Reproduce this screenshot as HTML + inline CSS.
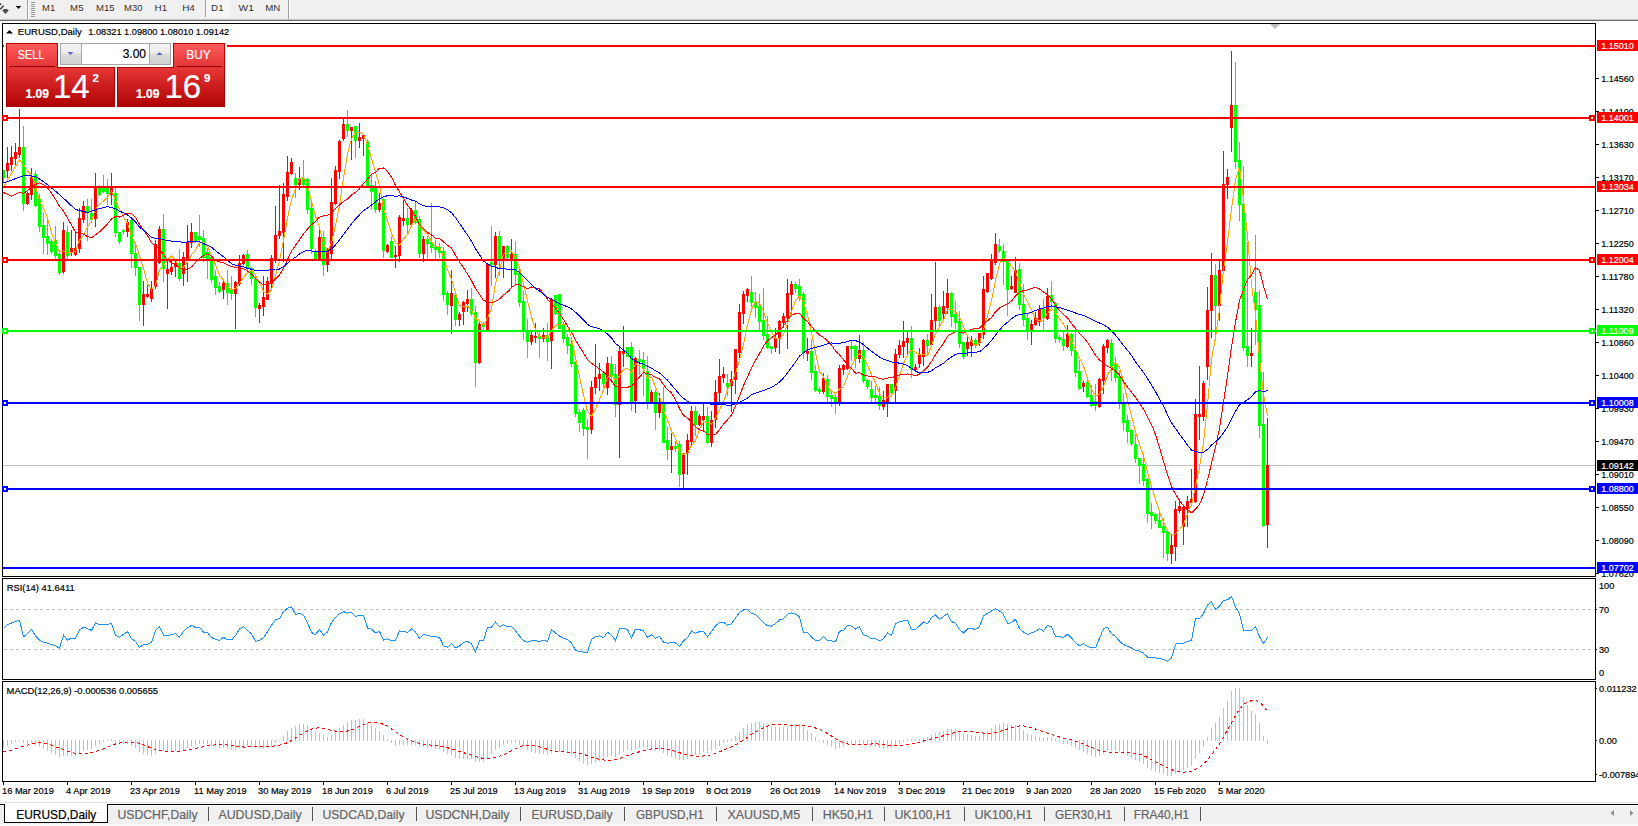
<!DOCTYPE html>
<html><head><meta charset="utf-8"><title>EURUSD,Daily</title>
<style>html,body{margin:0;padding:0;background:#fff;}body{width:1638px;height:826px;overflow:hidden;position:relative;font-family:"Liberation Sans",sans-serif;}
svg{position:absolute;left:0;top:0;} text{font-family:"Liberation Sans",sans-serif;}</style></head>
<body><svg width="1638" height="826" viewBox="0 0 1638 826" shape-rendering="crispEdges">
<rect x="0" y="0" width="1638" height="19" fill="#f0f0f0" />
<rect x="0" y="19" width="1638" height="1" fill="#c4c4c4" />
<rect x="0" y="20" width="1638" height="1" fill="#6e6e6e" />
<path d="M0.3 9.3 L3.6 5.6" stroke="#333" stroke-width="1.4" fill="none" shape-rendering="auto"/>
<path d="M0 3 L1.9 4.3 L0 5.2 Z" fill="#333" shape-rendering="auto"/>
<path d="M2.2 10.3 L4.3 9.1 L6.7 9.1 L8.8 10.3 L5.5 14 Z" fill="#4a4a4a" shape-rendering="auto"/>
<path d="M15.8 6 L21.2 6 L18.5 9 Z" fill="#000" shape-rendering="auto"/>
<rect x="27" y="0" width="1" height="19" fill="#a0a0a0" />
<rect x="28" y="0" width="1" height="19" fill="#ffffff" />
<rect x="31" y="2" width="4" height="1" fill="#9a9a9a" />
<rect x="31" y="4" width="4" height="1" fill="#9a9a9a" />
<rect x="31" y="6" width="4" height="1" fill="#9a9a9a" />
<rect x="31" y="8" width="4" height="1" fill="#9a9a9a" />
<rect x="31" y="10" width="4" height="1" fill="#9a9a9a" />
<rect x="31" y="12" width="4" height="1" fill="#9a9a9a" />
<rect x="31" y="14" width="4" height="1" fill="#9a9a9a" />
<rect x="31" y="16" width="4" height="1" fill="#9a9a9a" />
<rect x="206" y="0" width="24" height="17" fill="#f6f6f6" />
<rect x="205" y="0" width="1" height="17" fill="#a0a0a0" />
<rect x="288" y="0" width="1" height="19" fill="#a0a0a0" />
<rect x="289" y="0" width="1" height="19" fill="#ffffff" />
<text x="42.1" y="10.9" font-size="9.9" fill="#333333" text-anchor="start" font-weight="normal" textLength="13.1" lengthAdjust="spacingAndGlyphs">M1</text>
<text x="70.1" y="10.9" font-size="9.9" fill="#333333" text-anchor="start" font-weight="normal" textLength="13.4" lengthAdjust="spacingAndGlyphs">M5</text>
<text x="96.1" y="10.9" font-size="9.9" fill="#333333" text-anchor="start" font-weight="normal" textLength="18.6" lengthAdjust="spacingAndGlyphs">M15</text>
<text x="124.1" y="10.9" font-size="9.9" fill="#333333" text-anchor="start" font-weight="normal" textLength="18.4" lengthAdjust="spacingAndGlyphs">M30</text>
<text x="154.6" y="10.9" font-size="9.9" fill="#333333" text-anchor="start" font-weight="normal" textLength="12.6" lengthAdjust="spacingAndGlyphs">H1</text>
<text x="182.2" y="10.9" font-size="9.9" fill="#333333" text-anchor="start" font-weight="normal" textLength="12.7" lengthAdjust="spacingAndGlyphs">H4</text>
<text x="211.1" y="10.9" font-size="9.9" fill="#333333" text-anchor="start" font-weight="normal" textLength="12.5" lengthAdjust="spacingAndGlyphs">D1</text>
<text x="238.6" y="10.9" font-size="9.9" fill="#333333" text-anchor="start" font-weight="normal" textLength="15.2" lengthAdjust="spacingAndGlyphs">W1</text>
<text x="265.20000000000005" y="10.9" font-size="9.9" fill="#333333" text-anchor="start" font-weight="normal" textLength="15.0" lengthAdjust="spacingAndGlyphs">MN</text>
<rect x="2" y="23" width="1594" height="1" fill="#000" />
<rect x="2" y="576" width="1594" height="1" fill="#000" />
<rect x="2" y="23" width="1" height="554" fill="#000" />
<rect x="1595" y="23" width="1" height="554" fill="#000" />
<rect x="2" y="578" width="1594" height="1" fill="#000" />
<rect x="2" y="679" width="1594" height="1" fill="#000" />
<rect x="2" y="578" width="1" height="102" fill="#000" />
<rect x="1595" y="578" width="1" height="102" fill="#000" />
<rect x="2" y="681" width="1594" height="1" fill="#000" />
<rect x="2" y="781" width="1594" height="1" fill="#000" />
<rect x="2" y="681" width="1" height="101" fill="#000" />
<rect x="1595" y="681" width="1" height="101" fill="#000" />
<rect x="1596" y="78" width="3" height="1" fill="#000" />
<text x="1601.2" y="82" font-size="9.9" fill="#000" text-anchor="start" font-weight="normal" stroke="#000" stroke-width="0.2" textLength="32.6" lengthAdjust="spacingAndGlyphs">1.14560</text>
<rect x="1596" y="111" width="3" height="1" fill="#000" />
<text x="1601.2" y="115" font-size="9.9" fill="#000" text-anchor="start" font-weight="normal" stroke="#000" stroke-width="0.2" textLength="32.6" lengthAdjust="spacingAndGlyphs">1.14100</text>
<rect x="1596" y="144" width="3" height="1" fill="#000" />
<text x="1601.2" y="148" font-size="9.9" fill="#000" text-anchor="start" font-weight="normal" stroke="#000" stroke-width="0.2" textLength="32.6" lengthAdjust="spacingAndGlyphs">1.13630</text>
<rect x="1596" y="177" width="3" height="1" fill="#000" />
<text x="1601.2" y="181" font-size="9.9" fill="#000" text-anchor="start" font-weight="normal" stroke="#000" stroke-width="0.2" textLength="32.6" lengthAdjust="spacingAndGlyphs">1.13170</text>
<rect x="1596" y="210" width="3" height="1" fill="#000" />
<text x="1601.2" y="214" font-size="9.9" fill="#000" text-anchor="start" font-weight="normal" stroke="#000" stroke-width="0.2" textLength="32.6" lengthAdjust="spacingAndGlyphs">1.12710</text>
<rect x="1596" y="243" width="3" height="1" fill="#000" />
<text x="1601.2" y="247" font-size="9.9" fill="#000" text-anchor="start" font-weight="normal" stroke="#000" stroke-width="0.2" textLength="32.6" lengthAdjust="spacingAndGlyphs">1.12250</text>
<rect x="1596" y="276" width="3" height="1" fill="#000" />
<text x="1601.2" y="280" font-size="9.9" fill="#000" text-anchor="start" font-weight="normal" stroke="#000" stroke-width="0.2" textLength="32.6" lengthAdjust="spacingAndGlyphs">1.11780</text>
<rect x="1596" y="309" width="3" height="1" fill="#000" />
<text x="1601.2" y="313" font-size="9.9" fill="#000" text-anchor="start" font-weight="normal" stroke="#000" stroke-width="0.2" textLength="32.6" lengthAdjust="spacingAndGlyphs">1.11320</text>
<rect x="1596" y="342" width="3" height="1" fill="#000" />
<text x="1601.2" y="346" font-size="9.9" fill="#000" text-anchor="start" font-weight="normal" stroke="#000" stroke-width="0.2" textLength="32.6" lengthAdjust="spacingAndGlyphs">1.10860</text>
<rect x="1596" y="375" width="3" height="1" fill="#000" />
<text x="1601.2" y="379" font-size="9.9" fill="#000" text-anchor="start" font-weight="normal" stroke="#000" stroke-width="0.2" textLength="32.6" lengthAdjust="spacingAndGlyphs">1.10400</text>
<rect x="1596" y="408" width="3" height="1" fill="#000" />
<text x="1601.2" y="412" font-size="9.9" fill="#000" text-anchor="start" font-weight="normal" stroke="#000" stroke-width="0.2" textLength="32.6" lengthAdjust="spacingAndGlyphs">1.09930</text>
<rect x="1596" y="441" width="3" height="1" fill="#000" />
<text x="1601.2" y="445" font-size="9.9" fill="#000" text-anchor="start" font-weight="normal" stroke="#000" stroke-width="0.2" textLength="32.6" lengthAdjust="spacingAndGlyphs">1.09470</text>
<rect x="1596" y="474" width="3" height="1" fill="#000" />
<text x="1601.2" y="478" font-size="9.9" fill="#000" text-anchor="start" font-weight="normal" stroke="#000" stroke-width="0.2" textLength="32.6" lengthAdjust="spacingAndGlyphs">1.09010</text>
<rect x="1596" y="507" width="3" height="1" fill="#000" />
<text x="1601.2" y="511" font-size="9.9" fill="#000" text-anchor="start" font-weight="normal" stroke="#000" stroke-width="0.2" textLength="32.6" lengthAdjust="spacingAndGlyphs">1.08550</text>
<rect x="1596" y="540" width="3" height="1" fill="#000" />
<text x="1601.2" y="544" font-size="9.9" fill="#000" text-anchor="start" font-weight="normal" stroke="#000" stroke-width="0.2" textLength="32.6" lengthAdjust="spacingAndGlyphs">1.08090</text>
<rect x="1596" y="573" width="3" height="1" fill="#000" />
<text x="1601.2" y="577" font-size="9.9" fill="#000" text-anchor="start" font-weight="normal" stroke="#000" stroke-width="0.2" textLength="32.6" lengthAdjust="spacingAndGlyphs">1.07620</text>
<defs><clipPath id="cm"><rect x="3" y="24" width="1592" height="552"/></clipPath><clipPath id="cr"><rect x="3" y="579" width="1592" height="100"/></clipPath><clipPath id="cd"><rect x="3" y="682" width="1592" height="99"/></clipPath></defs>
<g clip-path="url(#cm)">
<rect x="3" y="465" width="1592" height="1" fill="#c0c0c0" />
<rect x="3" y="170" width="1" height="12" fill="#00ff00" />
<rect x="2" y="170" width="3" height="8" fill="#00ff00" />
<rect x="7" y="147" width="1" height="31" fill="#ff0000" />
<rect x="6" y="163" width="3" height="8" fill="#ff0000" />
<rect x="11" y="146" width="1" height="25" fill="#ff0000" />
<rect x="10" y="157" width="3" height="8" fill="#ff0000" />
<rect x="15" y="143" width="1" height="22" fill="#ff0000" />
<rect x="14" y="152" width="3" height="7" fill="#ff0000" />
<rect x="19" y="109" width="1" height="49" fill="#ff0000" />
<rect x="18" y="147" width="3" height="8" fill="#ff0000" />
<rect x="23" y="126" width="1" height="85" fill="#00ff00" />
<rect x="22" y="147" width="3" height="57" fill="#00ff00" />
<rect x="27" y="192" width="1" height="13" fill="#ff0000" />
<rect x="26" y="193" width="3" height="11" fill="#ff0000" />
<rect x="31" y="168" width="1" height="32" fill="#ff0000" />
<rect x="30" y="177" width="3" height="18" fill="#ff0000" />
<rect x="35" y="171" width="1" height="36" fill="#00ff00" />
<rect x="34" y="174" width="3" height="32" fill="#00ff00" />
<rect x="39" y="194" width="1" height="38" fill="#00ff00" />
<rect x="38" y="199" width="3" height="28" fill="#00ff00" />
<rect x="43" y="213" width="1" height="41" fill="#00ff00" />
<rect x="42" y="225" width="3" height="13" fill="#00ff00" />
<rect x="47" y="218" width="1" height="37" fill="#00ff00" />
<rect x="46" y="236" width="3" height="8" fill="#00ff00" />
<rect x="51" y="239" width="1" height="15" fill="#00ff00" />
<rect x="50" y="241" width="3" height="11" fill="#00ff00" />
<rect x="55" y="226" width="1" height="33" fill="#00ff00" />
<rect x="54" y="240" width="3" height="16" fill="#00ff00" />
<rect x="59" y="250" width="1" height="25" fill="#00ff00" />
<rect x="58" y="254" width="3" height="19" fill="#00ff00" />
<rect x="63" y="222" width="1" height="52" fill="#ff0000" />
<rect x="62" y="230" width="3" height="42" fill="#ff0000" />
<rect x="67" y="226" width="1" height="33" fill="#00ff00" />
<rect x="66" y="232" width="3" height="24" fill="#00ff00" />
<rect x="71" y="230" width="1" height="26" fill="#ff0000" />
<rect x="70" y="248" width="3" height="5" fill="#ff0000" />
<rect x="75" y="232" width="1" height="24" fill="#ff0000" />
<rect x="74" y="248" width="3" height="7" fill="#ff0000" />
<rect x="79" y="208" width="1" height="45" fill="#ff0000" />
<rect x="78" y="218" width="3" height="31" fill="#ff0000" />
<rect x="83" y="201" width="1" height="22" fill="#ff0000" />
<rect x="82" y="206" width="3" height="14" fill="#ff0000" />
<rect x="87" y="199" width="1" height="42" fill="#00ff00" />
<rect x="86" y="206" width="3" height="7" fill="#00ff00" />
<rect x="91" y="199" width="1" height="24" fill="#00ff00" />
<rect x="90" y="213" width="3" height="7" fill="#00ff00" />
<rect x="95" y="173" width="1" height="54" fill="#ff0000" />
<rect x="94" y="187" width="3" height="32" fill="#ff0000" />
<rect x="99" y="185" width="1" height="11" fill="#00ff00" />
<rect x="98" y="186" width="3" height="9" fill="#00ff00" />
<rect x="103" y="175" width="1" height="18" fill="#00ff00" />
<rect x="102" y="187" width="3" height="5" fill="#00ff00" />
<rect x="107" y="179" width="1" height="26" fill="#00ff00" />
<rect x="106" y="187" width="3" height="7" fill="#00ff00" />
<rect x="111" y="173" width="1" height="32" fill="#ff0000" />
<rect x="110" y="187" width="3" height="8" fill="#ff0000" />
<rect x="115" y="188" width="1" height="49" fill="#00ff00" />
<rect x="114" y="193" width="3" height="40" fill="#00ff00" />
<rect x="119" y="232" width="1" height="12" fill="#00ff00" />
<rect x="118" y="232" width="3" height="10" fill="#00ff00" />
<rect x="123" y="229" width="1" height="5" fill="#00ff00" />
<rect x="122" y="230" width="3" height="2" fill="#00ff00" />
<rect x="127" y="219" width="1" height="18" fill="#ff0000" />
<rect x="126" y="222" width="3" height="10" fill="#ff0000" />
<rect x="131" y="218" width="1" height="50" fill="#00ff00" />
<rect x="130" y="220" width="3" height="34" fill="#00ff00" />
<rect x="135" y="242" width="1" height="34" fill="#00ff00" />
<rect x="134" y="253" width="3" height="15" fill="#00ff00" />
<rect x="139" y="267" width="1" height="54" fill="#00ff00" />
<rect x="138" y="267" width="3" height="38" fill="#00ff00" />
<rect x="143" y="281" width="1" height="45" fill="#ff0000" />
<rect x="142" y="294" width="3" height="11" fill="#ff0000" />
<rect x="147" y="285" width="1" height="13" fill="#ff0000" />
<rect x="146" y="294" width="3" height="3" fill="#ff0000" />
<rect x="151" y="281" width="1" height="21" fill="#ff0000" />
<rect x="150" y="288" width="3" height="11" fill="#ff0000" />
<rect x="155" y="240" width="1" height="49" fill="#ff0000" />
<rect x="154" y="244" width="3" height="43" fill="#ff0000" />
<rect x="159" y="226" width="1" height="38" fill="#ff0000" />
<rect x="158" y="229" width="3" height="34" fill="#ff0000" />
<rect x="163" y="214" width="1" height="68" fill="#00ff00" />
<rect x="162" y="229" width="3" height="40" fill="#00ff00" />
<rect x="167" y="259" width="1" height="50" fill="#ff0000" />
<rect x="166" y="269" width="3" height="5" fill="#ff0000" />
<rect x="171" y="260" width="1" height="15" fill="#ff0000" />
<rect x="170" y="267" width="3" height="5" fill="#ff0000" />
<rect x="175" y="261" width="1" height="16" fill="#ff0000" />
<rect x="174" y="263" width="3" height="4" fill="#ff0000" />
<rect x="179" y="249" width="1" height="32" fill="#00ff00" />
<rect x="178" y="263" width="3" height="16" fill="#00ff00" />
<rect x="183" y="252" width="1" height="34" fill="#ff0000" />
<rect x="182" y="257" width="3" height="17" fill="#ff0000" />
<rect x="187" y="225" width="1" height="57" fill="#ff0000" />
<rect x="186" y="242" width="3" height="17" fill="#ff0000" />
<rect x="191" y="223" width="1" height="25" fill="#ff0000" />
<rect x="190" y="232" width="3" height="11" fill="#ff0000" />
<rect x="195" y="232" width="1" height="11" fill="#00ff00" />
<rect x="194" y="232" width="3" height="9" fill="#00ff00" />
<rect x="199" y="215" width="1" height="32" fill="#00ff00" />
<rect x="198" y="236" width="3" height="4" fill="#00ff00" />
<rect x="203" y="230" width="1" height="32" fill="#00ff00" />
<rect x="202" y="238" width="3" height="20" fill="#00ff00" />
<rect x="207" y="248" width="1" height="31" fill="#00ff00" />
<rect x="206" y="252" width="3" height="8" fill="#00ff00" />
<rect x="211" y="254" width="1" height="29" fill="#00ff00" />
<rect x="210" y="257" width="3" height="23" fill="#00ff00" />
<rect x="215" y="270" width="1" height="25" fill="#00ff00" />
<rect x="214" y="276" width="3" height="12" fill="#00ff00" />
<rect x="219" y="282" width="1" height="11" fill="#00ff00" />
<rect x="218" y="286" width="3" height="6" fill="#00ff00" />
<rect x="223" y="280" width="1" height="19" fill="#ff0000" />
<rect x="222" y="283" width="3" height="7" fill="#ff0000" />
<rect x="227" y="270" width="1" height="35" fill="#00ff00" />
<rect x="226" y="283" width="3" height="10" fill="#00ff00" />
<rect x="231" y="276" width="1" height="24" fill="#00ff00" />
<rect x="230" y="290" width="3" height="4" fill="#00ff00" />
<rect x="235" y="281" width="1" height="48" fill="#ff0000" />
<rect x="234" y="282" width="3" height="12" fill="#ff0000" />
<rect x="239" y="255" width="1" height="31" fill="#ff0000" />
<rect x="238" y="263" width="3" height="21" fill="#ff0000" />
<rect x="243" y="254" width="1" height="11" fill="#ff0000" />
<rect x="242" y="255" width="3" height="9" fill="#ff0000" />
<rect x="247" y="250" width="1" height="21" fill="#00ff00" />
<rect x="246" y="254" width="3" height="15" fill="#00ff00" />
<rect x="251" y="267" width="1" height="18" fill="#00ff00" />
<rect x="250" y="268" width="3" height="11" fill="#00ff00" />
<rect x="255" y="274" width="1" height="43" fill="#00ff00" />
<rect x="254" y="279" width="3" height="29" fill="#00ff00" />
<rect x="259" y="303" width="1" height="20" fill="#ff0000" />
<rect x="258" y="305" width="3" height="4" fill="#ff0000" />
<rect x="263" y="276" width="1" height="40" fill="#ff0000" />
<rect x="262" y="297" width="3" height="10" fill="#ff0000" />
<rect x="267" y="277" width="1" height="23" fill="#ff0000" />
<rect x="266" y="281" width="3" height="19" fill="#ff0000" />
<rect x="271" y="255" width="1" height="35" fill="#ff0000" />
<rect x="270" y="258" width="3" height="26" fill="#ff0000" />
<rect x="275" y="206" width="1" height="57" fill="#ff0000" />
<rect x="274" y="235" width="3" height="26" fill="#ff0000" />
<rect x="279" y="185" width="1" height="54" fill="#ff0000" />
<rect x="278" y="231" width="3" height="5" fill="#ff0000" />
<rect x="283" y="183" width="1" height="79" fill="#ff0000" />
<rect x="282" y="194" width="3" height="39" fill="#ff0000" />
<rect x="287" y="156" width="1" height="45" fill="#ff0000" />
<rect x="286" y="172" width="3" height="25" fill="#ff0000" />
<rect x="291" y="158" width="1" height="17" fill="#ff0000" />
<rect x="290" y="162" width="3" height="12" fill="#ff0000" />
<rect x="295" y="173" width="1" height="25" fill="#00ff00" />
<rect x="294" y="178" width="3" height="7" fill="#00ff00" />
<rect x="299" y="167" width="1" height="23" fill="#ff0000" />
<rect x="298" y="179" width="3" height="6" fill="#ff0000" />
<rect x="303" y="160" width="1" height="27" fill="#00ff00" />
<rect x="302" y="178" width="3" height="7" fill="#00ff00" />
<rect x="307" y="178" width="1" height="36" fill="#00ff00" />
<rect x="306" y="179" width="3" height="31" fill="#00ff00" />
<rect x="311" y="202" width="1" height="52" fill="#00ff00" />
<rect x="310" y="208" width="3" height="41" fill="#00ff00" />
<rect x="315" y="249" width="1" height="11" fill="#00ff00" />
<rect x="314" y="251" width="3" height="8" fill="#00ff00" />
<rect x="319" y="229" width="1" height="31" fill="#ff0000" />
<rect x="318" y="237" width="3" height="23" fill="#ff0000" />
<rect x="323" y="231" width="1" height="45" fill="#00ff00" />
<rect x="322" y="237" width="3" height="28" fill="#00ff00" />
<rect x="327" y="248" width="1" height="24" fill="#ff0000" />
<rect x="326" y="251" width="3" height="14" fill="#ff0000" />
<rect x="331" y="178" width="1" height="82" fill="#ff0000" />
<rect x="330" y="202" width="3" height="52" fill="#ff0000" />
<rect x="335" y="166" width="1" height="39" fill="#ff0000" />
<rect x="334" y="170" width="3" height="34" fill="#ff0000" />
<rect x="339" y="140" width="1" height="39" fill="#ff0000" />
<rect x="338" y="141" width="3" height="31" fill="#ff0000" />
<rect x="343" y="119" width="1" height="22" fill="#ff0000" />
<rect x="342" y="124" width="3" height="15" fill="#ff0000" />
<rect x="347" y="110" width="1" height="27" fill="#00ff00" />
<rect x="346" y="124" width="3" height="7" fill="#00ff00" />
<rect x="351" y="127" width="1" height="33" fill="#ff0000" />
<rect x="350" y="127" width="3" height="4" fill="#ff0000" />
<rect x="355" y="126" width="1" height="32" fill="#00ff00" />
<rect x="354" y="126" width="3" height="15" fill="#00ff00" />
<rect x="359" y="123" width="1" height="25" fill="#ff0000" />
<rect x="358" y="137" width="3" height="4" fill="#ff0000" />
<rect x="363" y="134" width="1" height="22" fill="#ff0000" />
<rect x="362" y="135" width="3" height="4" fill="#ff0000" />
<rect x="367" y="139" width="1" height="49" fill="#00ff00" />
<rect x="366" y="141" width="3" height="46" fill="#00ff00" />
<rect x="371" y="175" width="1" height="35" fill="#00ff00" />
<rect x="370" y="185" width="3" height="7" fill="#00ff00" />
<rect x="375" y="181" width="1" height="32" fill="#00ff00" />
<rect x="374" y="188" width="3" height="22" fill="#00ff00" />
<rect x="379" y="193" width="1" height="19" fill="#ff0000" />
<rect x="378" y="203" width="3" height="7" fill="#ff0000" />
<rect x="383" y="198" width="1" height="60" fill="#00ff00" />
<rect x="382" y="199" width="3" height="52" fill="#00ff00" />
<rect x="387" y="244" width="1" height="9" fill="#ff0000" />
<rect x="386" y="245" width="3" height="7" fill="#ff0000" />
<rect x="391" y="236" width="1" height="22" fill="#00ff00" />
<rect x="390" y="241" width="3" height="17" fill="#00ff00" />
<rect x="395" y="246" width="1" height="22" fill="#ff0000" />
<rect x="394" y="255" width="3" height="2" fill="#ff0000" />
<rect x="399" y="215" width="1" height="47" fill="#ff0000" />
<rect x="398" y="217" width="3" height="39" fill="#ff0000" />
<rect x="403" y="200" width="1" height="26" fill="#ff0000" />
<rect x="402" y="218" width="3" height="3" fill="#ff0000" />
<rect x="407" y="208" width="1" height="26" fill="#00ff00" />
<rect x="406" y="218" width="3" height="7" fill="#00ff00" />
<rect x="411" y="208" width="1" height="18" fill="#ff0000" />
<rect x="410" y="210" width="3" height="15" fill="#ff0000" />
<rect x="415" y="201" width="1" height="23" fill="#00ff00" />
<rect x="414" y="210" width="3" height="13" fill="#00ff00" />
<rect x="419" y="216" width="1" height="42" fill="#00ff00" />
<rect x="418" y="219" width="3" height="35" fill="#00ff00" />
<rect x="423" y="236" width="1" height="26" fill="#ff0000" />
<rect x="422" y="239" width="3" height="15" fill="#ff0000" />
<rect x="427" y="236" width="1" height="24" fill="#00ff00" />
<rect x="426" y="239" width="3" height="5" fill="#00ff00" />
<rect x="431" y="203" width="1" height="50" fill="#00ff00" />
<rect x="430" y="242" width="3" height="6" fill="#00ff00" />
<rect x="435" y="240" width="1" height="19" fill="#00ff00" />
<rect x="434" y="247" width="3" height="3" fill="#00ff00" />
<rect x="439" y="243" width="1" height="15" fill="#00ff00" />
<rect x="438" y="247" width="3" height="6" fill="#00ff00" />
<rect x="443" y="247" width="1" height="54" fill="#00ff00" />
<rect x="442" y="251" width="3" height="44" fill="#00ff00" />
<rect x="447" y="291" width="1" height="24" fill="#00ff00" />
<rect x="446" y="293" width="3" height="12" fill="#00ff00" />
<rect x="451" y="270" width="1" height="64" fill="#ff0000" />
<rect x="450" y="293" width="3" height="13" fill="#ff0000" />
<rect x="455" y="294" width="1" height="32" fill="#00ff00" />
<rect x="454" y="295" width="3" height="25" fill="#00ff00" />
<rect x="459" y="312" width="1" height="14" fill="#ff0000" />
<rect x="458" y="314" width="3" height="6" fill="#ff0000" />
<rect x="463" y="301" width="1" height="24" fill="#ff0000" />
<rect x="462" y="302" width="3" height="10" fill="#ff0000" />
<rect x="467" y="290" width="1" height="22" fill="#ff0000" />
<rect x="466" y="299" width="3" height="5" fill="#ff0000" />
<rect x="471" y="288" width="1" height="28" fill="#00ff00" />
<rect x="470" y="299" width="3" height="15" fill="#00ff00" />
<rect x="475" y="306" width="1" height="81" fill="#00ff00" />
<rect x="474" y="312" width="3" height="51" fill="#00ff00" />
<rect x="479" y="322" width="1" height="42" fill="#ff0000" />
<rect x="478" y="324" width="3" height="39" fill="#ff0000" />
<rect x="483" y="322" width="1" height="9" fill="#00ff00" />
<rect x="482" y="324" width="3" height="3" fill="#00ff00" />
<rect x="487" y="263" width="1" height="68" fill="#ff0000" />
<rect x="486" y="264" width="3" height="67" fill="#ff0000" />
<rect x="491" y="226" width="1" height="60" fill="#00ff00" />
<rect x="490" y="262" width="3" height="3" fill="#00ff00" />
<rect x="495" y="232" width="1" height="46" fill="#ff0000" />
<rect x="494" y="236" width="3" height="29" fill="#ff0000" />
<rect x="499" y="231" width="1" height="45" fill="#00ff00" />
<rect x="498" y="236" width="3" height="23" fill="#00ff00" />
<rect x="503" y="246" width="1" height="32" fill="#ff0000" />
<rect x="502" y="246" width="3" height="13" fill="#ff0000" />
<rect x="507" y="245" width="1" height="14" fill="#00ff00" />
<rect x="506" y="246" width="3" height="12" fill="#00ff00" />
<rect x="511" y="239" width="1" height="48" fill="#ff0000" />
<rect x="510" y="254" width="3" height="6" fill="#ff0000" />
<rect x="515" y="241" width="1" height="43" fill="#00ff00" />
<rect x="514" y="254" width="3" height="21" fill="#00ff00" />
<rect x="519" y="269" width="1" height="38" fill="#00ff00" />
<rect x="518" y="273" width="3" height="30" fill="#00ff00" />
<rect x="523" y="291" width="1" height="49" fill="#00ff00" />
<rect x="522" y="301" width="3" height="30" fill="#00ff00" />
<rect x="527" y="319" width="1" height="39" fill="#00ff00" />
<rect x="526" y="331" width="3" height="11" fill="#00ff00" />
<rect x="531" y="332" width="1" height="13" fill="#ff0000" />
<rect x="530" y="335" width="3" height="7" fill="#ff0000" />
<rect x="535" y="323" width="1" height="20" fill="#ff0000" />
<rect x="534" y="336" width="3" height="2" fill="#ff0000" />
<rect x="539" y="331" width="1" height="27" fill="#00ff00" />
<rect x="538" y="336" width="3" height="3" fill="#00ff00" />
<rect x="543" y="328" width="1" height="14" fill="#ff0000" />
<rect x="542" y="335" width="3" height="4" fill="#ff0000" />
<rect x="547" y="323" width="1" height="38" fill="#00ff00" />
<rect x="546" y="335" width="3" height="7" fill="#00ff00" />
<rect x="551" y="298" width="1" height="71" fill="#ff0000" />
<rect x="550" y="299" width="3" height="42" fill="#ff0000" />
<rect x="555" y="295" width="1" height="20" fill="#00ff00" />
<rect x="554" y="295" width="3" height="19" fill="#00ff00" />
<rect x="559" y="294" width="1" height="35" fill="#00ff00" />
<rect x="558" y="294" width="3" height="35" fill="#00ff00" />
<rect x="563" y="322" width="1" height="21" fill="#00ff00" />
<rect x="562" y="325" width="3" height="14" fill="#00ff00" />
<rect x="567" y="334" width="1" height="20" fill="#00ff00" />
<rect x="566" y="337" width="3" height="9" fill="#00ff00" />
<rect x="571" y="338" width="1" height="29" fill="#00ff00" />
<rect x="570" y="344" width="3" height="20" fill="#00ff00" />
<rect x="575" y="361" width="1" height="56" fill="#00ff00" />
<rect x="574" y="362" width="3" height="52" fill="#00ff00" />
<rect x="579" y="409" width="1" height="23" fill="#00ff00" />
<rect x="578" y="412" width="3" height="11" fill="#00ff00" />
<rect x="583" y="408" width="1" height="28" fill="#00ff00" />
<rect x="582" y="410" width="3" height="19" fill="#00ff00" />
<rect x="587" y="419" width="1" height="40" fill="#00ff00" />
<rect x="586" y="427" width="3" height="3" fill="#00ff00" />
<rect x="591" y="381" width="1" height="53" fill="#ff0000" />
<rect x="590" y="387" width="3" height="43" fill="#ff0000" />
<rect x="595" y="344" width="1" height="50" fill="#ff0000" />
<rect x="594" y="377" width="3" height="11" fill="#ff0000" />
<rect x="599" y="363" width="1" height="28" fill="#ff0000" />
<rect x="598" y="374" width="3" height="5" fill="#ff0000" />
<rect x="603" y="371" width="1" height="17" fill="#00ff00" />
<rect x="602" y="373" width="3" height="11" fill="#00ff00" />
<rect x="607" y="357" width="1" height="38" fill="#ff0000" />
<rect x="606" y="363" width="3" height="25" fill="#ff0000" />
<rect x="611" y="356" width="1" height="27" fill="#00ff00" />
<rect x="610" y="364" width="3" height="13" fill="#00ff00" />
<rect x="615" y="364" width="1" height="53" fill="#00ff00" />
<rect x="614" y="374" width="3" height="31" fill="#00ff00" />
<rect x="619" y="347" width="1" height="111" fill="#ff0000" />
<rect x="618" y="351" width="3" height="54" fill="#ff0000" />
<rect x="623" y="326" width="1" height="41" fill="#ff0000" />
<rect x="622" y="351" width="3" height="3" fill="#ff0000" />
<rect x="627" y="347" width="1" height="10" fill="#00ff00" />
<rect x="626" y="347" width="3" height="10" fill="#00ff00" />
<rect x="631" y="342" width="1" height="69" fill="#00ff00" />
<rect x="630" y="347" width="3" height="55" fill="#00ff00" />
<rect x="635" y="357" width="1" height="56" fill="#ff0000" />
<rect x="634" y="358" width="3" height="43" fill="#ff0000" />
<rect x="639" y="350" width="1" height="25" fill="#00ff00" />
<rect x="638" y="359" width="3" height="3" fill="#00ff00" />
<rect x="643" y="352" width="1" height="44" fill="#00ff00" />
<rect x="642" y="360" width="3" height="9" fill="#00ff00" />
<rect x="647" y="356" width="1" height="53" fill="#00ff00" />
<rect x="646" y="371" width="3" height="32" fill="#00ff00" />
<rect x="651" y="390" width="1" height="13" fill="#ff0000" />
<rect x="650" y="392" width="3" height="11" fill="#ff0000" />
<rect x="655" y="390" width="1" height="40" fill="#00ff00" />
<rect x="654" y="392" width="3" height="21" fill="#00ff00" />
<rect x="659" y="393" width="1" height="25" fill="#ff0000" />
<rect x="658" y="403" width="3" height="10" fill="#ff0000" />
<rect x="663" y="387" width="1" height="56" fill="#00ff00" />
<rect x="662" y="404" width="3" height="39" fill="#00ff00" />
<rect x="667" y="427" width="1" height="33" fill="#00ff00" />
<rect x="666" y="440" width="3" height="10" fill="#00ff00" />
<rect x="671" y="433" width="1" height="40" fill="#ff0000" />
<rect x="670" y="446" width="3" height="4" fill="#ff0000" />
<rect x="675" y="441" width="1" height="11" fill="#00ff00" />
<rect x="674" y="446" width="3" height="3" fill="#00ff00" />
<rect x="679" y="441" width="1" height="46" fill="#00ff00" />
<rect x="678" y="444" width="3" height="31" fill="#00ff00" />
<rect x="683" y="453" width="1" height="36" fill="#ff0000" />
<rect x="682" y="453" width="3" height="21" fill="#ff0000" />
<rect x="687" y="434" width="1" height="41" fill="#ff0000" />
<rect x="686" y="440" width="3" height="13" fill="#ff0000" />
<rect x="691" y="406" width="1" height="41" fill="#ff0000" />
<rect x="690" y="411" width="3" height="31" fill="#ff0000" />
<rect x="695" y="406" width="1" height="30" fill="#00ff00" />
<rect x="694" y="411" width="3" height="14" fill="#00ff00" />
<rect x="699" y="414" width="1" height="12" fill="#ff0000" />
<rect x="698" y="416" width="3" height="9" fill="#ff0000" />
<rect x="703" y="404" width="1" height="27" fill="#ff0000" />
<rect x="702" y="416" width="3" height="4" fill="#ff0000" />
<rect x="707" y="407" width="1" height="37" fill="#00ff00" />
<rect x="706" y="416" width="3" height="27" fill="#00ff00" />
<rect x="711" y="411" width="1" height="36" fill="#ff0000" />
<rect x="710" y="420" width="3" height="23" fill="#ff0000" />
<rect x="715" y="380" width="1" height="48" fill="#ff0000" />
<rect x="714" y="392" width="3" height="28" fill="#ff0000" />
<rect x="719" y="359" width="1" height="43" fill="#ff0000" />
<rect x="718" y="376" width="3" height="17" fill="#ff0000" />
<rect x="723" y="367" width="1" height="16" fill="#ff0000" />
<rect x="722" y="374" width="3" height="4" fill="#ff0000" />
<rect x="727" y="374" width="1" height="22" fill="#00ff00" />
<rect x="726" y="383" width="3" height="4" fill="#00ff00" />
<rect x="731" y="371" width="1" height="41" fill="#ff0000" />
<rect x="730" y="379" width="3" height="7" fill="#ff0000" />
<rect x="735" y="349" width="1" height="45" fill="#ff0000" />
<rect x="734" y="349" width="3" height="31" fill="#ff0000" />
<rect x="739" y="304" width="1" height="55" fill="#ff0000" />
<rect x="738" y="312" width="3" height="41" fill="#ff0000" />
<rect x="743" y="291" width="1" height="33" fill="#ff0000" />
<rect x="742" y="294" width="3" height="20" fill="#ff0000" />
<rect x="747" y="288" width="1" height="14" fill="#ff0000" />
<rect x="746" y="289" width="3" height="7" fill="#ff0000" />
<rect x="751" y="276" width="1" height="31" fill="#00ff00" />
<rect x="750" y="292" width="3" height="11" fill="#00ff00" />
<rect x="755" y="292" width="1" height="26" fill="#00ff00" />
<rect x="754" y="302" width="3" height="6" fill="#00ff00" />
<rect x="759" y="294" width="1" height="36" fill="#00ff00" />
<rect x="758" y="306" width="3" height="16" fill="#00ff00" />
<rect x="763" y="288" width="1" height="52" fill="#00ff00" />
<rect x="762" y="320" width="3" height="16" fill="#00ff00" />
<rect x="767" y="316" width="1" height="33" fill="#00ff00" />
<rect x="766" y="334" width="3" height="14" fill="#00ff00" />
<rect x="771" y="346" width="1" height="8" fill="#00ff00" />
<rect x="770" y="346" width="3" height="3" fill="#00ff00" />
<rect x="775" y="328" width="1" height="24" fill="#ff0000" />
<rect x="774" y="338" width="3" height="10" fill="#ff0000" />
<rect x="779" y="320" width="1" height="34" fill="#ff0000" />
<rect x="778" y="321" width="3" height="18" fill="#ff0000" />
<rect x="783" y="313" width="1" height="15" fill="#ff0000" />
<rect x="782" y="316" width="3" height="7" fill="#ff0000" />
<rect x="787" y="279" width="1" height="70" fill="#ff0000" />
<rect x="786" y="293" width="3" height="25" fill="#ff0000" />
<rect x="791" y="281" width="1" height="33" fill="#ff0000" />
<rect x="790" y="284" width="3" height="11" fill="#ff0000" />
<rect x="795" y="282" width="1" height="11" fill="#00ff00" />
<rect x="794" y="284" width="3" height="5" fill="#00ff00" />
<rect x="799" y="279" width="1" height="22" fill="#00ff00" />
<rect x="798" y="286" width="3" height="10" fill="#00ff00" />
<rect x="803" y="292" width="1" height="67" fill="#00ff00" />
<rect x="802" y="294" width="3" height="59" fill="#00ff00" />
<rect x="807" y="338" width="1" height="23" fill="#ff0000" />
<rect x="806" y="351" width="3" height="3" fill="#ff0000" />
<rect x="811" y="339" width="1" height="41" fill="#00ff00" />
<rect x="810" y="351" width="3" height="22" fill="#00ff00" />
<rect x="815" y="365" width="1" height="27" fill="#00ff00" />
<rect x="814" y="371" width="3" height="20" fill="#00ff00" />
<rect x="819" y="387" width="1" height="7" fill="#00ff00" />
<rect x="818" y="389" width="3" height="3" fill="#00ff00" />
<rect x="823" y="373" width="1" height="21" fill="#ff0000" />
<rect x="822" y="378" width="3" height="14" fill="#ff0000" />
<rect x="827" y="375" width="1" height="27" fill="#00ff00" />
<rect x="826" y="379" width="3" height="18" fill="#00ff00" />
<rect x="831" y="391" width="1" height="16" fill="#00ff00" />
<rect x="830" y="395" width="3" height="4" fill="#00ff00" />
<rect x="835" y="394" width="1" height="20" fill="#00ff00" />
<rect x="834" y="397" width="3" height="7" fill="#00ff00" />
<rect x="839" y="365" width="1" height="41" fill="#ff0000" />
<rect x="838" y="368" width="3" height="36" fill="#ff0000" />
<rect x="843" y="364" width="1" height="11" fill="#ff0000" />
<rect x="842" y="365" width="3" height="5" fill="#ff0000" />
<rect x="847" y="346" width="1" height="24" fill="#ff0000" />
<rect x="846" y="346" width="3" height="23" fill="#ff0000" />
<rect x="851" y="340" width="1" height="21" fill="#00ff00" />
<rect x="850" y="346" width="3" height="3" fill="#00ff00" />
<rect x="855" y="345" width="1" height="23" fill="#00ff00" />
<rect x="854" y="346" width="3" height="13" fill="#00ff00" />
<rect x="859" y="335" width="1" height="28" fill="#ff0000" />
<rect x="858" y="350" width="3" height="9" fill="#ff0000" />
<rect x="863" y="342" width="1" height="41" fill="#00ff00" />
<rect x="862" y="350" width="3" height="31" fill="#00ff00" />
<rect x="867" y="379" width="1" height="10" fill="#00ff00" />
<rect x="866" y="380" width="3" height="7" fill="#00ff00" />
<rect x="871" y="381" width="1" height="22" fill="#00ff00" />
<rect x="870" y="389" width="3" height="9" fill="#00ff00" />
<rect x="875" y="386" width="1" height="17" fill="#00ff00" />
<rect x="874" y="395" width="3" height="3" fill="#00ff00" />
<rect x="879" y="387" width="1" height="23" fill="#00ff00" />
<rect x="878" y="396" width="3" height="10" fill="#00ff00" />
<rect x="883" y="391" width="1" height="19" fill="#ff0000" />
<rect x="882" y="400" width="3" height="7" fill="#ff0000" />
<rect x="887" y="384" width="1" height="33" fill="#ff0000" />
<rect x="886" y="384" width="3" height="18" fill="#ff0000" />
<rect x="891" y="384" width="1" height="10" fill="#00ff00" />
<rect x="890" y="384" width="3" height="9" fill="#00ff00" />
<rect x="895" y="349" width="1" height="54" fill="#ff0000" />
<rect x="894" y="354" width="3" height="37" fill="#ff0000" />
<rect x="899" y="340" width="1" height="18" fill="#ff0000" />
<rect x="898" y="345" width="3" height="10" fill="#ff0000" />
<rect x="903" y="321" width="1" height="37" fill="#ff0000" />
<rect x="902" y="341" width="3" height="6" fill="#ff0000" />
<rect x="907" y="332" width="1" height="23" fill="#ff0000" />
<rect x="906" y="338" width="3" height="5" fill="#ff0000" />
<rect x="911" y="326" width="1" height="52" fill="#00ff00" />
<rect x="910" y="338" width="3" height="32" fill="#00ff00" />
<rect x="915" y="364" width="1" height="8" fill="#ff0000" />
<rect x="914" y="367" width="3" height="3" fill="#ff0000" />
<rect x="919" y="348" width="1" height="20" fill="#ff0000" />
<rect x="918" y="355" width="3" height="9" fill="#ff0000" />
<rect x="923" y="339" width="1" height="27" fill="#ff0000" />
<rect x="922" y="340" width="3" height="17" fill="#ff0000" />
<rect x="927" y="334" width="1" height="22" fill="#00ff00" />
<rect x="926" y="340" width="3" height="6" fill="#00ff00" />
<rect x="931" y="294" width="1" height="52" fill="#ff0000" />
<rect x="930" y="320" width="3" height="25" fill="#ff0000" />
<rect x="935" y="262" width="1" height="68" fill="#ff0000" />
<rect x="934" y="307" width="3" height="14" fill="#ff0000" />
<rect x="939" y="305" width="1" height="21" fill="#00ff00" />
<rect x="938" y="307" width="3" height="14" fill="#00ff00" />
<rect x="943" y="291" width="1" height="28" fill="#ff0000" />
<rect x="942" y="306" width="3" height="8" fill="#ff0000" />
<rect x="947" y="279" width="1" height="35" fill="#ff0000" />
<rect x="946" y="293" width="3" height="15" fill="#ff0000" />
<rect x="951" y="292" width="1" height="35" fill="#00ff00" />
<rect x="950" y="293" width="3" height="24" fill="#00ff00" />
<rect x="955" y="301" width="1" height="28" fill="#00ff00" />
<rect x="954" y="314" width="3" height="9" fill="#00ff00" />
<rect x="959" y="311" width="1" height="37" fill="#00ff00" />
<rect x="958" y="321" width="3" height="23" fill="#00ff00" />
<rect x="963" y="342" width="1" height="17" fill="#00ff00" />
<rect x="962" y="342" width="3" height="15" fill="#00ff00" />
<rect x="967" y="336" width="1" height="20" fill="#ff0000" />
<rect x="966" y="342" width="3" height="7" fill="#ff0000" />
<rect x="971" y="336" width="1" height="21" fill="#ff0000" />
<rect x="970" y="340" width="3" height="6" fill="#ff0000" />
<rect x="975" y="338" width="1" height="10" fill="#00ff00" />
<rect x="974" y="340" width="3" height="5" fill="#00ff00" />
<rect x="979" y="333" width="1" height="13" fill="#ff0000" />
<rect x="978" y="333" width="3" height="10" fill="#ff0000" />
<rect x="983" y="276" width="1" height="63" fill="#ff0000" />
<rect x="982" y="289" width="3" height="46" fill="#ff0000" />
<rect x="987" y="273" width="1" height="20" fill="#ff0000" />
<rect x="986" y="273" width="3" height="19" fill="#ff0000" />
<rect x="991" y="254" width="1" height="26" fill="#ff0000" />
<rect x="990" y="260" width="3" height="19" fill="#ff0000" />
<rect x="995" y="233" width="1" height="32" fill="#ff0000" />
<rect x="994" y="244" width="3" height="19" fill="#ff0000" />
<rect x="999" y="239" width="1" height="14" fill="#00ff00" />
<rect x="998" y="246" width="3" height="5" fill="#00ff00" />
<rect x="1003" y="244" width="1" height="41" fill="#00ff00" />
<rect x="1002" y="251" width="3" height="11" fill="#00ff00" />
<rect x="1007" y="261" width="1" height="55" fill="#00ff00" />
<rect x="1006" y="261" width="3" height="29" fill="#00ff00" />
<rect x="1011" y="276" width="1" height="14" fill="#ff0000" />
<rect x="1010" y="286" width="3" height="3" fill="#ff0000" />
<rect x="1015" y="257" width="1" height="36" fill="#ff0000" />
<rect x="1014" y="270" width="3" height="23" fill="#ff0000" />
<rect x="1019" y="263" width="1" height="47" fill="#00ff00" />
<rect x="1018" y="269" width="3" height="36" fill="#00ff00" />
<rect x="1023" y="284" width="1" height="42" fill="#00ff00" />
<rect x="1022" y="304" width="3" height="16" fill="#00ff00" />
<rect x="1027" y="313" width="1" height="27" fill="#00ff00" />
<rect x="1026" y="318" width="3" height="13" fill="#00ff00" />
<rect x="1031" y="320" width="1" height="25" fill="#ff0000" />
<rect x="1030" y="324" width="3" height="7" fill="#ff0000" />
<rect x="1035" y="312" width="1" height="14" fill="#ff0000" />
<rect x="1034" y="318" width="3" height="7" fill="#ff0000" />
<rect x="1039" y="305" width="1" height="21" fill="#ff0000" />
<rect x="1038" y="309" width="3" height="13" fill="#ff0000" />
<rect x="1043" y="299" width="1" height="32" fill="#00ff00" />
<rect x="1042" y="309" width="3" height="9" fill="#00ff00" />
<rect x="1047" y="288" width="1" height="32" fill="#ff0000" />
<rect x="1046" y="296" width="3" height="23" fill="#ff0000" />
<rect x="1051" y="281" width="1" height="28" fill="#00ff00" />
<rect x="1050" y="295" width="3" height="7" fill="#00ff00" />
<rect x="1055" y="302" width="1" height="41" fill="#00ff00" />
<rect x="1054" y="303" width="3" height="36" fill="#00ff00" />
<rect x="1059" y="335" width="1" height="8" fill="#00ff00" />
<rect x="1058" y="337" width="3" height="3" fill="#00ff00" />
<rect x="1063" y="332" width="1" height="19" fill="#00ff00" />
<rect x="1062" y="339" width="3" height="7" fill="#00ff00" />
<rect x="1067" y="325" width="1" height="23" fill="#ff0000" />
<rect x="1066" y="334" width="3" height="13" fill="#ff0000" />
<rect x="1071" y="333" width="1" height="23" fill="#00ff00" />
<rect x="1070" y="334" width="3" height="17" fill="#00ff00" />
<rect x="1075" y="327" width="1" height="50" fill="#00ff00" />
<rect x="1074" y="350" width="3" height="23" fill="#00ff00" />
<rect x="1079" y="360" width="1" height="30" fill="#00ff00" />
<rect x="1078" y="371" width="3" height="18" fill="#00ff00" />
<rect x="1083" y="381" width="1" height="11" fill="#ff0000" />
<rect x="1082" y="383" width="3" height="4" fill="#ff0000" />
<rect x="1087" y="379" width="1" height="19" fill="#00ff00" />
<rect x="1086" y="382" width="3" height="15" fill="#00ff00" />
<rect x="1091" y="385" width="1" height="22" fill="#00ff00" />
<rect x="1090" y="395" width="3" height="11" fill="#00ff00" />
<rect x="1095" y="384" width="1" height="27" fill="#00ff00" />
<rect x="1094" y="401" width="3" height="5" fill="#00ff00" />
<rect x="1099" y="378" width="1" height="30" fill="#ff0000" />
<rect x="1098" y="379" width="3" height="28" fill="#ff0000" />
<rect x="1103" y="344" width="1" height="50" fill="#ff0000" />
<rect x="1102" y="346" width="3" height="35" fill="#ff0000" />
<rect x="1107" y="339" width="1" height="14" fill="#ff0000" />
<rect x="1106" y="340" width="3" height="8" fill="#ff0000" />
<rect x="1111" y="339" width="1" height="42" fill="#00ff00" />
<rect x="1110" y="343" width="3" height="25" fill="#00ff00" />
<rect x="1115" y="357" width="1" height="25" fill="#00ff00" />
<rect x="1114" y="363" width="3" height="15" fill="#00ff00" />
<rect x="1119" y="370" width="1" height="39" fill="#00ff00" />
<rect x="1118" y="376" width="3" height="27" fill="#00ff00" />
<rect x="1123" y="394" width="1" height="37" fill="#00ff00" />
<rect x="1122" y="402" width="3" height="21" fill="#00ff00" />
<rect x="1127" y="415" width="1" height="28" fill="#00ff00" />
<rect x="1126" y="420" width="3" height="12" fill="#00ff00" />
<rect x="1131" y="429" width="1" height="17" fill="#00ff00" />
<rect x="1130" y="430" width="3" height="14" fill="#00ff00" />
<rect x="1135" y="434" width="1" height="29" fill="#00ff00" />
<rect x="1134" y="444" width="3" height="15" fill="#00ff00" />
<rect x="1139" y="458" width="1" height="26" fill="#00ff00" />
<rect x="1138" y="458" width="3" height="8" fill="#00ff00" />
<rect x="1143" y="458" width="1" height="28" fill="#00ff00" />
<rect x="1142" y="464" width="3" height="17" fill="#00ff00" />
<rect x="1147" y="478" width="1" height="45" fill="#00ff00" />
<rect x="1146" y="479" width="3" height="35" fill="#00ff00" />
<rect x="1151" y="503" width="1" height="26" fill="#00ff00" />
<rect x="1150" y="512" width="3" height="4" fill="#00ff00" />
<rect x="1155" y="513" width="1" height="11" fill="#00ff00" />
<rect x="1154" y="514" width="3" height="7" fill="#00ff00" />
<rect x="1159" y="511" width="1" height="17" fill="#00ff00" />
<rect x="1158" y="520" width="3" height="8" fill="#00ff00" />
<rect x="1163" y="518" width="1" height="40" fill="#00ff00" />
<rect x="1162" y="526" width="3" height="7" fill="#00ff00" />
<rect x="1167" y="530" width="1" height="31" fill="#00ff00" />
<rect x="1166" y="531" width="3" height="23" fill="#00ff00" />
<rect x="1171" y="534" width="1" height="30" fill="#ff0000" />
<rect x="1170" y="545" width="3" height="9" fill="#ff0000" />
<rect x="1175" y="501" width="1" height="60" fill="#ff0000" />
<rect x="1174" y="509" width="3" height="38" fill="#ff0000" />
<rect x="1179" y="501" width="1" height="12" fill="#ff0000" />
<rect x="1178" y="506" width="3" height="5" fill="#ff0000" />
<rect x="1183" y="505" width="1" height="40" fill="#ff0000" />
<rect x="1182" y="507" width="3" height="20" fill="#ff0000" />
<rect x="1187" y="496" width="1" height="31" fill="#ff0000" />
<rect x="1186" y="501" width="3" height="8" fill="#ff0000" />
<rect x="1191" y="469" width="1" height="36" fill="#ff0000" />
<rect x="1190" y="499" width="3" height="4" fill="#ff0000" />
<rect x="1195" y="399" width="1" height="104" fill="#ff0000" />
<rect x="1194" y="414" width="3" height="88" fill="#ff0000" />
<rect x="1199" y="366" width="1" height="74" fill="#ff0000" />
<rect x="1198" y="414" width="3" height="3" fill="#ff0000" />
<rect x="1203" y="381" width="1" height="40" fill="#ff0000" />
<rect x="1202" y="383" width="3" height="34" fill="#ff0000" />
<rect x="1207" y="287" width="1" height="93" fill="#ff0000" />
<rect x="1206" y="310" width="3" height="57" fill="#ff0000" />
<rect x="1211" y="253" width="1" height="85" fill="#ff0000" />
<rect x="1210" y="275" width="3" height="36" fill="#ff0000" />
<rect x="1215" y="264" width="1" height="71" fill="#00ff00" />
<rect x="1214" y="275" width="3" height="31" fill="#00ff00" />
<rect x="1219" y="261" width="1" height="60" fill="#ff0000" />
<rect x="1218" y="270" width="3" height="36" fill="#ff0000" />
<rect x="1223" y="151" width="1" height="121" fill="#ff0000" />
<rect x="1222" y="184" width="3" height="87" fill="#ff0000" />
<rect x="1227" y="169" width="1" height="30" fill="#ff0000" />
<rect x="1226" y="177" width="3" height="8" fill="#ff0000" />
<rect x="1231" y="51" width="1" height="101" fill="#ff0000" />
<rect x="1230" y="105" width="3" height="23" fill="#ff0000" />
<rect x="1235" y="62" width="1" height="107" fill="#00ff00" />
<rect x="1234" y="105" width="3" height="57" fill="#00ff00" />
<rect x="1239" y="142" width="1" height="79" fill="#00ff00" />
<rect x="1238" y="160" width="3" height="45" fill="#00ff00" />
<rect x="1243" y="166" width="1" height="185" fill="#00ff00" />
<rect x="1242" y="204" width="3" height="144" fill="#00ff00" />
<rect x="1247" y="242" width="1" height="125" fill="#00ff00" />
<rect x="1246" y="346" width="3" height="10" fill="#00ff00" />
<rect x="1251" y="328" width="1" height="39" fill="#ff0000" />
<rect x="1250" y="353" width="3" height="3" fill="#ff0000" />
<rect x="1255" y="235" width="1" height="110" fill="#00ff00" />
<rect x="1254" y="292" width="3" height="18" fill="#00ff00" />
<rect x="1259" y="290" width="1" height="148" fill="#00ff00" />
<rect x="1258" y="305" width="3" height="121" fill="#00ff00" />
<rect x="1263" y="372" width="1" height="155" fill="#00ff00" />
<rect x="1262" y="424" width="3" height="102" fill="#00ff00" />
<rect x="1267" y="418" width="1" height="130" fill="#ff0000" />
<rect x="1266" y="465" width="3" height="60" fill="#ff0000" />
<polyline points="3.5,187.1 7.5,180.2 11.5,173.4 15.5,166.5 19.5,159.7 23.5,164.9 27.5,170.9 31.5,174.9 35.5,185.5 39.5,201.3 43.5,208.1 47.5,218.1 51.5,232.9 55.5,242.9 59.5,252.1 63.5,250.7 67.5,253.1 71.5,252.5 75.5,251.1 79.5,240.3 83.5,235.5 87.5,226.9 91.5,221.1 95.5,208.9 99.5,204.1 103.5,201.1 107.5,197.3 111.5,190.9 115.5,199.9 119.5,209.3 123.5,217.3 127.5,223.1 131.5,236.3 135.5,243.3 139.5,255.9 143.5,268.5 147.5,282.9 151.5,289.9 155.5,285.3 159.5,270.3 163.5,265.1 167.5,260.1 171.5,255.9 175.5,259.7 179.5,269.5 183.5,267.3 187.5,261.9 191.5,254.9 195.5,250.3 199.5,242.5 203.5,242.5 207.5,245.9 211.5,255.3 215.5,264.7 219.5,275.1 223.5,280.3 227.5,286.9 231.5,289.7 235.5,288.7 239.5,283.1 243.5,277.5 247.5,272.7 251.5,269.7 255.5,274.7 259.5,283.1 263.5,291.5 267.5,294.1 271.5,290.1 275.5,275.7 279.5,260.9 283.5,240.3 287.5,218.5 291.5,199.3 295.5,189.1 299.5,178.7 303.5,176.7 307.5,184.1 311.5,201.3 315.5,216.1 319.5,227.7 323.5,243.7 327.5,252.1 331.5,242.9 335.5,225.3 339.5,206.1 343.5,178.1 347.5,153.9 351.5,138.9 355.5,132.9 359.5,132.1 363.5,134.3 367.5,145.5 371.5,158.3 375.5,172.1 379.5,185.3 383.5,208.3 387.5,220.1 391.5,233.3 395.5,242.5 399.5,245.3 403.5,238.9 407.5,234.7 411.5,225.3 415.5,218.7 419.5,225.9 423.5,230.1 427.5,233.9 431.5,241.3 435.5,246.7 439.5,246.5 443.5,257.5 447.5,269.7 451.5,278.9 455.5,292.9 459.5,305.3 463.5,306.9 467.5,305.9 471.5,309.9 475.5,318.5 479.5,320.5 483.5,325.3 487.5,318.3 491.5,308.5 495.5,283.3 499.5,270.1 503.5,254.1 507.5,252.7 511.5,250.7 515.5,258.3 519.5,267.1 523.5,283.9 527.5,300.7 531.5,316.9 535.5,329.3 539.5,336.5 543.5,337.5 547.5,337.5 551.5,330.3 555.5,325.7 559.5,323.7 563.5,324.3 567.5,325.1 571.5,337.9 575.5,357.9 579.5,376.7 583.5,394.7 587.5,411.5 591.5,416.3 595.5,409.1 599.5,399.5 603.5,390.5 607.5,377.3 611.5,375.1 615.5,380.5 619.5,375.9 623.5,369.5 627.5,368.1 631.5,373.1 635.5,363.9 639.5,365.9 643.5,369.3 647.5,378.5 651.5,376.7 655.5,387.5 659.5,395.9 663.5,410.7 667.5,420.1 671.5,430.9 675.5,438.1 679.5,452.3 683.5,454.5 687.5,452.7 691.5,445.7 695.5,440.9 699.5,429.3 703.5,421.9 707.5,422.3 711.5,424.1 715.5,417.7 719.5,409.7 723.5,401.3 727.5,390.1 731.5,381.9 735.5,373.3 739.5,360.5 743.5,344.5 747.5,325.1 751.5,309.7 755.5,301.3 759.5,303.1 763.5,311.3 767.5,322.9 771.5,332.1 775.5,338.3 779.5,338.3 783.5,334.5 787.5,323.7 791.5,310.9 795.5,300.9 799.5,295.7 803.5,302.9 807.5,314.5 811.5,332.1 815.5,352.5 819.5,371.7 823.5,376.9 827.5,385.9 831.5,391.1 835.5,393.7 839.5,389.1 843.5,386.5 847.5,376.5 851.5,366.5 855.5,357.5 859.5,353.9 863.5,356.9 867.5,364.9 871.5,374.7 875.5,382.5 879.5,393.5 883.5,397.5 887.5,397.1 891.5,396.1 895.5,387.5 899.5,375.5 903.5,363.7 907.5,354.5 911.5,349.9 915.5,352.5 919.5,354.5 923.5,354.3 927.5,355.7 931.5,345.9 935.5,333.9 939.5,326.9 943.5,320.1 947.5,309.7 951.5,308.9 955.5,311.9 959.5,316.5 963.5,326.5 967.5,336.3 971.5,341.1 975.5,345.5 979.5,343.5 983.5,330.1 987.5,316.3 991.5,300.3 995.5,280.3 999.5,263.7 1003.5,258.1 1007.5,261.3 1011.5,266.5 1015.5,271.7 1019.5,282.5 1023.5,294.1 1027.5,302.3 1031.5,309.9 1035.5,319.5 1039.5,320.5 1043.5,320.1 1047.5,313.3 1051.5,308.7 1055.5,312.7 1059.5,318.7 1063.5,324.3 1067.5,331.9 1071.5,341.7 1075.5,348.5 1079.5,358.3 1083.5,365.9 1087.5,378.3 1091.5,389.3 1095.5,395.9 1099.5,394.1 1103.5,386.7 1107.5,375.5 1111.5,367.9 1115.5,362.3 1119.5,366.9 1123.5,382.1 1127.5,400.3 1131.5,415.5 1135.5,431.7 1139.5,444.3 1143.5,455.9 1147.5,472.3 1151.5,486.7 1155.5,499.1 1159.5,511.5 1163.5,521.9 1167.5,529.9 1171.5,535.9 1175.5,533.7 1179.5,529.5 1183.5,524.5 1187.5,514.1 1191.5,504.9 1195.5,485.9 1199.5,467.5 1203.5,442.7 1207.5,404.5 1211.5,359.7 1215.5,337.9 1219.5,309.1 1223.5,269.3 1227.5,242.7 1231.5,208.7 1235.5,179.9 1239.5,166.7 1243.5,199.3 1247.5,234.9 1251.5,284.5 1255.5,314.1 1259.5,358.3 1263.5,393.9 1267.5,415.9" fill="none" stroke="#ffa500" stroke-width="1" shape-rendering="crispEdges" />
<polyline points="3.5,192.5 7.5,194.3 11.5,196.2 15.5,194.2 19.5,192.2 23.5,193.5 27.5,190.7 31.5,187.0 35.5,184.4 39.5,182.9 43.5,184.5 47.5,187.8 51.5,193.1 55.5,199.5 59.5,206.3 63.5,211.1 67.5,218.1 71.5,224.9 75.5,232.1 79.5,233.2 83.5,234.1 87.5,236.6 91.5,237.6 95.5,234.9 99.5,231.8 103.5,228.1 107.5,223.9 111.5,219.1 115.5,216.2 119.5,217.0 123.5,215.3 127.5,213.4 131.5,213.8 135.5,217.3 139.5,224.3 143.5,230.1 147.5,235.5 151.5,242.7 155.5,246.3 159.5,249.0 163.5,254.4 167.5,260.2 171.5,262.7 175.5,264.3 179.5,267.6 183.5,270.1 187.5,269.4 191.5,266.9 195.5,262.3 199.5,258.4 203.5,255.7 207.5,253.6 211.5,256.1 215.5,260.3 219.5,261.9 223.5,262.9 227.5,264.7 231.5,266.9 235.5,267.1 239.5,267.6 243.5,268.5 247.5,271.1 251.5,273.8 255.5,278.6 259.5,282.1 263.5,284.8 267.5,284.9 271.5,282.9 275.5,278.9 279.5,275.1 283.5,268.1 287.5,259.5 291.5,250.9 295.5,245.3 299.5,239.9 303.5,233.9 307.5,228.9 311.5,224.7 315.5,221.4 319.5,217.1 323.5,215.9 327.5,215.4 331.5,213.0 335.5,208.6 339.5,204.9 343.5,201.4 347.5,199.1 351.5,195.1 355.5,192.3 359.5,188.9 363.5,183.6 367.5,179.2 371.5,174.4 375.5,172.4 379.5,168.1 383.5,168.0 387.5,171.1 391.5,177.3 395.5,185.4 399.5,192.1 403.5,198.4 407.5,205.3 411.5,210.3 415.5,216.4 419.5,224.8 423.5,228.6 427.5,232.3 431.5,235.0 435.5,238.3 439.5,238.4 443.5,241.9 447.5,245.3 451.5,248.0 455.5,255.3 459.5,262.1 463.5,267.7 467.5,274.1 471.5,280.6 475.5,288.4 479.5,294.4 483.5,300.4 487.5,301.6 491.5,302.6 495.5,301.5 499.5,298.9 503.5,294.8 507.5,292.2 511.5,287.6 515.5,284.7 519.5,284.7 523.5,286.9 527.5,288.9 531.5,287.0 535.5,287.9 539.5,288.7 543.5,293.8 547.5,299.3 551.5,303.8 555.5,307.7 559.5,313.6 563.5,319.4 567.5,325.9 571.5,332.2 575.5,340.1 579.5,346.7 583.5,352.9 587.5,359.6 591.5,363.3 595.5,366.1 599.5,368.9 603.5,371.9 607.5,376.4 611.5,380.9 615.5,386.4 619.5,387.3 623.5,387.7 627.5,387.2 631.5,386.4 635.5,381.8 639.5,377.0 643.5,372.6 647.5,373.7 651.5,374.8 655.5,377.5 659.5,378.9 663.5,384.6 667.5,389.8 671.5,392.8 675.5,399.7 679.5,408.5 683.5,415.4 687.5,418.2 691.5,422.0 695.5,426.5 699.5,429.9 703.5,430.9 707.5,434.5 711.5,435.1 715.5,434.3 719.5,429.6 723.5,424.2 727.5,419.9 731.5,415.0 735.5,406.1 739.5,396.0 743.5,385.6 747.5,376.9 751.5,368.1 755.5,360.4 759.5,353.6 763.5,345.9 767.5,340.7 771.5,337.6 775.5,334.9 779.5,331.1 783.5,326.1 787.5,319.9 791.5,315.3 795.5,313.6 799.5,313.6 803.5,318.1 807.5,321.6 811.5,326.3 815.5,331.2 819.5,335.2 823.5,337.4 827.5,340.9 831.5,345.1 835.5,351.0 839.5,354.7 843.5,359.9 847.5,364.3 851.5,368.6 855.5,373.1 859.5,372.9 863.5,375.0 867.5,376.0 871.5,376.5 875.5,376.9 879.5,378.9 883.5,379.1 887.5,378.1 891.5,377.4 895.5,376.4 899.5,374.9 903.5,374.6 907.5,373.9 911.5,374.6 915.5,375.9 919.5,374.1 923.5,370.8 927.5,367.1 931.5,361.6 935.5,354.6 939.5,348.9 943.5,343.3 947.5,336.2 951.5,333.5 955.5,331.9 959.5,332.0 963.5,333.3 967.5,331.4 971.5,329.4 975.5,328.6 979.5,328.1 983.5,324.1 987.5,320.8 991.5,317.4 995.5,312.0 999.5,308.0 1003.5,305.7 1007.5,303.8 1011.5,301.2 1015.5,296.0 1019.5,292.3 1023.5,290.6 1027.5,289.9 1031.5,288.5 1035.5,287.4 1039.5,288.9 1043.5,292.0 1047.5,294.6 1051.5,298.6 1055.5,304.9 1059.5,310.5 1063.5,314.5 1067.5,317.9 1071.5,323.6 1075.5,328.5 1079.5,333.4 1083.5,337.2 1087.5,342.4 1091.5,348.6 1095.5,355.4 1099.5,359.9 1103.5,363.4 1107.5,366.2 1111.5,368.3 1115.5,371.0 1119.5,375.1 1123.5,381.4 1127.5,387.1 1131.5,392.2 1135.5,397.2 1139.5,403.1 1143.5,409.1 1147.5,416.8 1151.5,424.6 1155.5,434.7 1159.5,447.6 1163.5,461.4 1167.5,474.6 1171.5,486.6 1175.5,494.3 1179.5,500.3 1183.5,505.7 1187.5,509.9 1191.5,512.8 1195.5,509.1 1199.5,504.4 1203.5,495.1 1207.5,480.5 1211.5,463.0 1215.5,447.1 1219.5,428.4 1223.5,402.1 1227.5,375.8 1231.5,346.9 1235.5,322.3 1239.5,300.6 1243.5,289.6 1247.5,279.4 1251.5,275.0 1255.5,267.5 1259.5,270.5 1263.5,285.9 1267.5,299.4" fill="none" stroke="#ff0000" stroke-width="1" shape-rendering="crispEdges" />
<polyline points="3.5,182.9 7.5,181.5 11.5,180.1 15.5,178.6 19.5,177.1 23.5,175.9 27.5,175.9 31.5,175.9 35.5,176.5 39.5,178.9 43.5,181.8 47.5,184.6 51.5,187.9 55.5,191.2 59.5,194.7 63.5,198.3 67.5,202.0 71.5,205.8 75.5,209.5 79.5,210.5 83.5,211.5 87.5,212.5 91.5,211.1 95.5,209.8 99.5,208.7 103.5,207.5 107.5,206.6 111.5,207.6 115.5,208.6 119.5,211.1 123.5,212.9 127.5,214.9 131.5,218.1 135.5,221.9 139.5,227.2 143.5,230.2 147.5,233.6 151.5,237.3 155.5,238.6 159.5,238.7 163.5,239.7 167.5,240.6 171.5,241.1 175.5,241.4 179.5,241.6 183.5,242.5 187.5,242.0 191.5,241.5 195.5,241.2 199.5,241.9 203.5,243.6 207.5,245.2 211.5,247.2 215.5,250.5 219.5,253.8 223.5,256.8 227.5,260.1 231.5,263.7 235.5,265.3 239.5,266.1 243.5,266.9 247.5,268.4 251.5,269.2 255.5,270.6 259.5,270.6 263.5,270.7 267.5,270.3 271.5,269.3 275.5,269.0 279.5,269.0 283.5,266.6 287.5,263.3 291.5,259.8 295.5,257.2 299.5,253.9 303.5,251.5 307.5,250.4 311.5,250.9 315.5,251.5 319.5,251.4 323.5,251.7 327.5,251.4 331.5,248.8 335.5,244.9 339.5,239.9 343.5,234.6 347.5,229.2 351.5,223.7 355.5,219.0 359.5,214.8 363.5,210.8 367.5,208.0 371.5,205.1 375.5,201.9 379.5,198.5 383.5,196.9 387.5,195.7 391.5,195.7 395.5,196.3 399.5,195.9 403.5,196.7 407.5,198.4 411.5,200.0 415.5,201.3 419.5,203.7 423.5,205.6 427.5,206.7 431.5,206.7 435.5,206.4 439.5,206.9 443.5,207.9 447.5,209.6 451.5,212.7 455.5,217.6 459.5,223.4 463.5,229.3 467.5,235.0 471.5,241.2 475.5,248.6 479.5,254.8 483.5,261.2 487.5,263.8 491.5,266.2 495.5,267.1 499.5,268.9 503.5,268.8 507.5,269.2 511.5,269.1 515.5,269.7 519.5,272.6 523.5,276.3 527.5,280.2 531.5,284.4 535.5,288.2 539.5,291.0 543.5,294.2 547.5,297.5 551.5,299.2 555.5,301.3 559.5,303.9 563.5,305.3 567.5,306.7 571.5,309.0 575.5,312.2 579.5,315.8 583.5,320.0 587.5,324.3 591.5,326.8 595.5,327.3 599.5,328.9 603.5,330.8 607.5,334.1 611.5,337.9 615.5,343.5 619.5,346.6 623.5,350.1 627.5,353.4 631.5,358.3 635.5,361.1 639.5,363.0 643.5,364.3 647.5,366.3 651.5,368.2 655.5,370.8 659.5,372.9 663.5,376.5 667.5,380.1 671.5,385.0 675.5,389.5 679.5,394.4 683.5,398.2 687.5,401.4 691.5,403.0 695.5,403.3 699.5,403.1 703.5,402.7 707.5,403.2 711.5,404.3 715.5,404.8 719.5,404.8 723.5,404.5 727.5,405.3 731.5,405.4 735.5,403.6 739.5,402.3 743.5,400.4 747.5,398.1 751.5,394.8 755.5,393.1 759.5,391.8 763.5,390.7 767.5,388.9 771.5,387.4 775.5,384.9 779.5,382.2 783.5,378.0 787.5,372.8 791.5,367.4 795.5,362.1 799.5,356.1 803.5,352.7 807.5,349.8 811.5,348.5 815.5,347.3 819.5,346.5 823.5,345.2 827.5,343.7 831.5,343.0 835.5,343.3 839.5,343.1 843.5,342.8 847.5,341.4 851.5,340.4 855.5,340.7 859.5,342.0 863.5,344.8 867.5,348.1 871.5,351.2 875.5,354.2 879.5,357.0 883.5,359.2 887.5,360.4 891.5,361.9 895.5,362.4 899.5,363.2 903.5,364.1 907.5,365.6 911.5,368.4 915.5,371.0 919.5,373.0 923.5,372.6 927.5,372.4 931.5,370.7 935.5,367.9 939.5,365.6 943.5,363.2 947.5,359.7 951.5,357.0 955.5,354.3 959.5,353.5 963.5,353.2 967.5,353.0 971.5,352.8 975.5,352.3 979.5,351.7 983.5,348.7 987.5,344.9 991.5,340.4 995.5,335.3 999.5,330.1 1003.5,325.5 1007.5,322.3 1011.5,318.8 1015.5,316.0 1019.5,314.6 1023.5,313.9 1027.5,313.6 1031.5,312.1 1035.5,310.5 1039.5,308.9 1043.5,308.2 1047.5,306.5 1051.5,305.9 1055.5,306.9 1059.5,307.6 1063.5,308.9 1067.5,310.2 1071.5,311.4 1075.5,313.0 1079.5,314.5 1083.5,315.4 1087.5,317.2 1091.5,319.4 1095.5,321.4 1099.5,323.0 1103.5,324.9 1107.5,327.1 1111.5,330.7 1115.5,335.1 1119.5,340.2 1123.5,345.5 1127.5,350.3 1131.5,355.5 1135.5,361.8 1139.5,367.1 1143.5,372.5 1147.5,378.6 1151.5,385.0 1155.5,391.7 1159.5,399.0 1163.5,406.1 1167.5,414.7 1171.5,422.8 1175.5,428.5 1179.5,434.1 1183.5,439.5 1187.5,445.1 1191.5,450.0 1195.5,451.4 1199.5,452.3 1203.5,452.3 1207.5,449.4 1211.5,445.1 1215.5,441.8 1219.5,438.1 1223.5,432.7 1227.5,427.3 1231.5,418.6 1235.5,411.4 1239.5,404.8 1243.5,402.3 1247.5,399.7 1251.5,396.7 1255.5,391.8 1259.5,390.4 1263.5,391.9 1267.5,390.3" fill="none" stroke="#0000ff" stroke-width="1" shape-rendering="crispEdges" />
</g>
<rect x="3" y="45" width="1593" height="2" fill="#ff0000" />
<rect x="1597" y="40" width="41" height="11" fill="#ff0000" />
<text x="1601.2" y="49.3" font-size="9.9" fill="#ffffff" text-anchor="start" font-weight="normal" stroke="#ffffff" stroke-width="0.2" textLength="32.6" lengthAdjust="spacingAndGlyphs">1.15010</text>
<rect x="3" y="117" width="1593" height="2" fill="#ff0000" />
<rect x="2" y="115" width="6" height="6" fill="#ff0000" />
<rect x="4" y="117" width="2" height="2" fill="#ffffff" />
<rect x="1589" y="115" width="6" height="6" fill="#ff0000" />
<rect x="1591" y="117" width="2" height="2" fill="#ffffff" />
<rect x="1597" y="112" width="41" height="11" fill="#ff0000" />
<text x="1601.2" y="121.3" font-size="9.9" fill="#ffffff" text-anchor="start" font-weight="normal" stroke="#ffffff" stroke-width="0.2" textLength="32.6" lengthAdjust="spacingAndGlyphs">1.14001</text>
<rect x="3" y="186" width="1593" height="2" fill="#ff0000" />
<rect x="1597" y="181" width="41" height="11" fill="#ff0000" />
<text x="1601.2" y="190.3" font-size="9.9" fill="#ffffff" text-anchor="start" font-weight="normal" stroke="#ffffff" stroke-width="0.2" textLength="32.6" lengthAdjust="spacingAndGlyphs">1.13034</text>
<rect x="3" y="259" width="1593" height="2" fill="#ff0000" />
<rect x="2" y="257" width="6" height="6" fill="#ff0000" />
<rect x="4" y="259" width="2" height="2" fill="#ffffff" />
<rect x="1589" y="257" width="6" height="6" fill="#ff0000" />
<rect x="1591" y="259" width="2" height="2" fill="#ffffff" />
<rect x="1597" y="254" width="41" height="11" fill="#ff0000" />
<text x="1601.2" y="263.3" font-size="9.9" fill="#ffffff" text-anchor="start" font-weight="normal" stroke="#ffffff" stroke-width="0.2" textLength="32.6" lengthAdjust="spacingAndGlyphs">1.12004</text>
<rect x="3" y="330" width="1593" height="2" fill="#00ff00" />
<rect x="2" y="328" width="6" height="6" fill="#00ff00" />
<rect x="4" y="330" width="2" height="2" fill="#ffffff" />
<rect x="1589" y="328" width="6" height="6" fill="#00ff00" />
<rect x="1591" y="330" width="2" height="2" fill="#ffffff" />
<rect x="1597" y="325" width="41" height="11" fill="#00ff00" />
<text x="1601.2" y="334.3" font-size="9.9" fill="#ffffff" text-anchor="start" font-weight="normal" stroke="#ffffff" stroke-width="0.2" textLength="32.6" lengthAdjust="spacingAndGlyphs">1.11009</text>
<rect x="3" y="402" width="1593" height="2" fill="#0000ff" />
<rect x="2" y="400" width="6" height="6" fill="#0000ff" />
<rect x="4" y="402" width="2" height="2" fill="#ffffff" />
<rect x="1589" y="400" width="6" height="6" fill="#0000ff" />
<rect x="1591" y="402" width="2" height="2" fill="#ffffff" />
<rect x="1597" y="397" width="41" height="11" fill="#0000ff" />
<text x="1601.2" y="406.3" font-size="9.9" fill="#ffffff" text-anchor="start" font-weight="normal" stroke="#ffffff" stroke-width="0.2" textLength="32.6" lengthAdjust="spacingAndGlyphs">1.10008</text>
<rect x="3" y="488" width="1593" height="2" fill="#0000ff" />
<rect x="2" y="486" width="6" height="6" fill="#0000ff" />
<rect x="4" y="488" width="2" height="2" fill="#ffffff" />
<rect x="1589" y="486" width="6" height="6" fill="#0000ff" />
<rect x="1591" y="488" width="2" height="2" fill="#ffffff" />
<rect x="1597" y="483" width="41" height="11" fill="#0000ff" />
<text x="1601.2" y="492.3" font-size="9.9" fill="#ffffff" text-anchor="start" font-weight="normal" stroke="#ffffff" stroke-width="0.2" textLength="32.6" lengthAdjust="spacingAndGlyphs">1.08800</text>
<rect x="3" y="567" width="1593" height="2" fill="#0000ff" />
<rect x="1597" y="562" width="41" height="11" fill="#0000ff" />
<text x="1601.2" y="571.3" font-size="9.9" fill="#ffffff" text-anchor="start" font-weight="normal" stroke="#ffffff" stroke-width="0.2" textLength="32.6" lengthAdjust="spacingAndGlyphs">1.07702</text>
<rect x="1597" y="460" width="41" height="11" fill="#000000" />
<text x="1601.2" y="469.3" font-size="9.9" fill="#ffffff" text-anchor="start" font-weight="normal" stroke="#ffffff" stroke-width="0.2" textLength="32.6" lengthAdjust="spacingAndGlyphs">1.09142</text>
<path d="M6 33.5 L9.5 30 L13 33.5 Z" fill="#000" shape-rendering="auto"/>
<text x="17.8" y="35" font-size="9.9" fill="#000" text-anchor="start" font-weight="normal" stroke="#000" stroke-width="0.2" textLength="64" lengthAdjust="spacingAndGlyphs">EURUSD,Daily</text>
<text x="88.2" y="35" font-size="9.9" fill="#000" text-anchor="start" font-weight="normal" stroke="#000" stroke-width="0.2" textLength="141" lengthAdjust="spacingAndGlyphs">1.08321 1.09800 1.08010 1.09142</text>
<g clip-path="url(#cr)">
<line x1="4" y1="609.5" x2="1594" y2="609.5" stroke="#c0c0c0" stroke-width="1" stroke-dasharray="3,3"/>
<line x1="4" y1="649.5" x2="1594" y2="649.5" stroke="#c0c0c0" stroke-width="1" stroke-dasharray="3,3"/>
<polyline points="3.5,628.5 7.5,624.6 11.5,623.0 15.5,621.6 19.5,620.3 23.5,636.7 27.5,633.8 31.5,629.4 35.5,636.0 39.5,640.1 43.5,642.1 47.5,643.2 51.5,644.7 55.5,645.4 59.5,648.4 63.5,635.2 67.5,640.0 71.5,638.1 75.5,638.1 79.5,630.0 83.5,627.2 87.5,628.7 91.5,630.5 95.5,622.9 99.5,624.8 103.5,624.1 107.5,624.7 111.5,623.2 115.5,635.2 119.5,637.2 123.5,634.3 127.5,631.7 131.5,638.7 135.5,641.4 139.5,647.4 143.5,644.4 147.5,644.4 151.5,642.4 155.5,630.4 159.5,627.0 163.5,635.1 167.5,635.3 171.5,634.8 175.5,633.7 179.5,637.0 183.5,631.3 187.5,627.7 191.5,625.4 195.5,627.5 199.5,627.3 203.5,632.1 207.5,632.6 211.5,637.5 215.5,639.4 219.5,640.3 223.5,637.4 227.5,639.7 231.5,639.9 235.5,635.6 239.5,629.1 243.5,626.6 247.5,630.8 251.5,633.8 255.5,641.2 259.5,640.5 263.5,637.5 267.5,631.9 271.5,625.2 275.5,619.6 279.5,618.7 283.5,611.6 287.5,608.2 291.5,606.8 295.5,614.3 299.5,613.4 303.5,615.1 307.5,622.9 311.5,632.5 315.5,634.6 319.5,629.5 323.5,635.1 327.5,632.0 331.5,622.4 335.5,617.5 339.5,613.6 343.5,611.6 347.5,613.1 351.5,612.7 355.5,616.2 359.5,615.7 363.5,615.4 367.5,628.1 371.5,629.1 375.5,632.9 379.5,631.5 383.5,640.0 387.5,638.8 391.5,640.8 395.5,640.2 399.5,631.0 403.5,631.2 407.5,632.5 411.5,629.1 415.5,631.9 419.5,638.2 423.5,634.6 427.5,635.4 431.5,636.3 435.5,636.7 439.5,637.4 443.5,645.7 447.5,647.3 451.5,643.6 455.5,647.9 459.5,646.2 463.5,642.3 467.5,641.3 471.5,644.0 475.5,651.6 479.5,640.6 483.5,640.9 487.5,627.1 491.5,627.1 495.5,622.1 499.5,626.8 503.5,624.6 507.5,627.0 511.5,626.4 515.5,630.7 519.5,636.1 523.5,640.6 527.5,642.3 531.5,640.7 535.5,640.9 539.5,641.3 543.5,640.3 547.5,641.5 551.5,629.7 555.5,632.9 559.5,636.0 563.5,638.1 567.5,639.5 571.5,642.9 575.5,650.3 579.5,651.4 583.5,652.2 587.5,652.3 591.5,639.3 595.5,636.7 599.5,635.9 603.5,637.8 607.5,632.3 611.5,635.2 615.5,640.7 619.5,628.3 623.5,628.3 627.5,629.4 631.5,638.0 635.5,629.1 639.5,629.7 643.5,631.0 647.5,637.1 651.5,634.9 655.5,638.2 659.5,636.1 663.5,642.3 667.5,643.2 671.5,642.5 675.5,642.8 679.5,646.7 683.5,640.9 687.5,637.6 691.5,630.9 695.5,633.4 699.5,631.6 703.5,631.6 707.5,636.9 711.5,631.6 715.5,625.7 719.5,622.6 723.5,622.3 727.5,625.3 731.5,623.8 735.5,618.0 739.5,612.4 743.5,610.0 747.5,609.4 751.5,613.2 755.5,614.7 759.5,618.8 763.5,622.6 767.5,625.8 771.5,626.1 775.5,623.7 779.5,619.9 783.5,618.9 787.5,614.3 791.5,612.7 795.5,614.1 799.5,616.7 803.5,632.6 807.5,632.4 811.5,637.0 815.5,640.5 819.5,640.7 823.5,636.7 827.5,640.4 831.5,640.8 835.5,641.9 839.5,631.2 843.5,630.4 847.5,625.5 851.5,626.1 855.5,629.0 859.5,626.8 863.5,634.8 867.5,636.2 871.5,638.8 875.5,638.8 879.5,640.7 883.5,638.8 887.5,633.0 891.5,635.3 895.5,624.0 899.5,621.8 903.5,620.9 907.5,620.1 911.5,630.0 915.5,629.4 919.5,626.0 923.5,622.0 927.5,623.7 931.5,617.6 935.5,614.8 939.5,619.4 943.5,616.4 947.5,613.7 951.5,621.6 955.5,623.4 959.5,629.5 963.5,632.9 967.5,629.0 971.5,628.4 975.5,629.6 979.5,626.4 983.5,616.1 987.5,613.3 991.5,611.1 995.5,608.6 999.5,610.8 1003.5,614.7 1007.5,623.4 1011.5,622.7 1015.5,619.2 1019.5,628.6 1023.5,632.1 1027.5,634.5 1031.5,632.9 1035.5,631.3 1039.5,628.8 1043.5,631.0 1047.5,625.3 1051.5,626.8 1055.5,636.1 1059.5,636.4 1063.5,637.7 1067.5,634.2 1071.5,638.1 1075.5,642.7 1079.5,645.7 1083.5,643.9 1087.5,646.3 1091.5,647.9 1095.5,647.9 1099.5,638.3 1103.5,628.7 1107.5,627.2 1111.5,633.9 1115.5,636.2 1119.5,641.2 1123.5,644.6 1127.5,646.1 1131.5,648.0 1135.5,650.2 1139.5,651.2 1143.5,653.3 1147.5,657.1 1151.5,657.3 1155.5,657.9 1159.5,658.7 1163.5,659.2 1167.5,661.4 1171.5,657.9 1175.5,644.2 1179.5,643.2 1183.5,643.4 1187.5,641.2 1191.5,640.5 1195.5,618.7 1199.5,618.7 1203.5,613.5 1207.5,605.0 1211.5,602.1 1215.5,609.4 1219.5,606.2 1223.5,600.3 1227.5,599.9 1231.5,596.4 1235.5,606.9 1239.5,613.7 1243.5,630.3 1247.5,631.0 1251.5,630.8 1255.5,626.4 1259.5,636.8 1263.5,643.4 1267.5,637.5" fill="none" stroke="#1e90ff" stroke-width="1" shape-rendering="crispEdges"/>
</g>
<text x="6.7" y="591" font-size="9.9" fill="#000" text-anchor="start" font-weight="normal" stroke="#000" stroke-width="0.2" textLength="68" lengthAdjust="spacingAndGlyphs">RSI(14) 41.6411</text>
<text x="1599" y="588.5" font-size="9.2" fill="#000" text-anchor="start" font-weight="normal" stroke="#000" stroke-width="0.2" >100</text>
<text x="1599" y="612.5" font-size="9.2" fill="#000" text-anchor="start" font-weight="normal" stroke="#000" stroke-width="0.2" >70</text>
<text x="1599" y="652.5" font-size="9.2" fill="#000" text-anchor="start" font-weight="normal" stroke="#000" stroke-width="0.2" >30</text>
<text x="1599" y="675.5" font-size="9.2" fill="#000" text-anchor="start" font-weight="normal" stroke="#000" stroke-width="0.2" >0</text>
<rect x="1596" y="609" width="1" height="1" fill="#000" />
<rect x="1596" y="649" width="1" height="1" fill="#000" />
<g clip-path="url(#cd)">
<rect x="3" y="740" width="1" height="8" fill="#c0c0c0" />
<rect x="7" y="740" width="1" height="6" fill="#c0c0c0" />
<rect x="11" y="740" width="1" height="4" fill="#c0c0c0" />
<rect x="15" y="740" width="1" height="2" fill="#c0c0c0" />
<rect x="19" y="740" width="1" height="1" fill="#c0c0c0" />
<rect x="23" y="740" width="1" height="3" fill="#c0c0c0" />
<rect x="27" y="740" width="1" height="4" fill="#c0c0c0" />
<rect x="31" y="740" width="1" height="3" fill="#c0c0c0" />
<rect x="35" y="740" width="1" height="5" fill="#c0c0c0" />
<rect x="39" y="740" width="1" height="7" fill="#c0c0c0" />
<rect x="43" y="740" width="1" height="9" fill="#c0c0c0" />
<rect x="47" y="740" width="1" height="11" fill="#c0c0c0" />
<rect x="51" y="740" width="1" height="13" fill="#c0c0c0" />
<rect x="55" y="740" width="1" height="15" fill="#c0c0c0" />
<rect x="59" y="740" width="1" height="17" fill="#c0c0c0" />
<rect x="63" y="740" width="1" height="16" fill="#c0c0c0" />
<rect x="67" y="740" width="1" height="16" fill="#c0c0c0" />
<rect x="71" y="740" width="1" height="16" fill="#c0c0c0" />
<rect x="75" y="740" width="1" height="16" fill="#c0c0c0" />
<rect x="79" y="740" width="1" height="14" fill="#c0c0c0" />
<rect x="83" y="740" width="1" height="11" fill="#c0c0c0" />
<rect x="87" y="740" width="1" height="10" fill="#c0c0c0" />
<rect x="91" y="740" width="1" height="9" fill="#c0c0c0" />
<rect x="95" y="740" width="1" height="6" fill="#c0c0c0" />
<rect x="99" y="740" width="1" height="4" fill="#c0c0c0" />
<rect x="103" y="740" width="1" height="2" fill="#c0c0c0" />
<rect x="107" y="740" width="1" height="1" fill="#c0c0c0" />
<rect x="111" y="739" width="1" height="2" fill="#c0c0c0" />
<rect x="115" y="740" width="1" height="2" fill="#c0c0c0" />
<rect x="119" y="740" width="1" height="3" fill="#c0c0c0" />
<rect x="123" y="740" width="1" height="4" fill="#c0c0c0" />
<rect x="127" y="740" width="1" height="4" fill="#c0c0c0" />
<rect x="131" y="740" width="1" height="6" fill="#c0c0c0" />
<rect x="135" y="740" width="1" height="8" fill="#c0c0c0" />
<rect x="139" y="740" width="1" height="12" fill="#c0c0c0" />
<rect x="143" y="740" width="1" height="14" fill="#c0c0c0" />
<rect x="147" y="740" width="1" height="15" fill="#c0c0c0" />
<rect x="151" y="740" width="1" height="16" fill="#c0c0c0" />
<rect x="155" y="740" width="1" height="14" fill="#c0c0c0" />
<rect x="159" y="740" width="1" height="11" fill="#c0c0c0" />
<rect x="163" y="740" width="1" height="11" fill="#c0c0c0" />
<rect x="167" y="740" width="1" height="11" fill="#c0c0c0" />
<rect x="171" y="740" width="1" height="11" fill="#c0c0c0" />
<rect x="175" y="740" width="1" height="11" fill="#c0c0c0" />
<rect x="179" y="740" width="1" height="11" fill="#c0c0c0" />
<rect x="183" y="740" width="1" height="10" fill="#c0c0c0" />
<rect x="187" y="740" width="1" height="8" fill="#c0c0c0" />
<rect x="191" y="740" width="1" height="6" fill="#c0c0c0" />
<rect x="195" y="740" width="1" height="5" fill="#c0c0c0" />
<rect x="199" y="740" width="1" height="4" fill="#c0c0c0" />
<rect x="203" y="740" width="1" height="4" fill="#c0c0c0" />
<rect x="207" y="740" width="1" height="4" fill="#c0c0c0" />
<rect x="211" y="740" width="1" height="5" fill="#c0c0c0" />
<rect x="215" y="740" width="1" height="7" fill="#c0c0c0" />
<rect x="219" y="740" width="1" height="8" fill="#c0c0c0" />
<rect x="223" y="740" width="1" height="8" fill="#c0c0c0" />
<rect x="227" y="740" width="1" height="9" fill="#c0c0c0" />
<rect x="231" y="740" width="1" height="10" fill="#c0c0c0" />
<rect x="235" y="740" width="1" height="10" fill="#c0c0c0" />
<rect x="239" y="740" width="1" height="8" fill="#c0c0c0" />
<rect x="243" y="740" width="1" height="7" fill="#c0c0c0" />
<rect x="247" y="740" width="1" height="6" fill="#c0c0c0" />
<rect x="251" y="740" width="1" height="6" fill="#c0c0c0" />
<rect x="255" y="740" width="1" height="8" fill="#c0c0c0" />
<rect x="259" y="740" width="1" height="9" fill="#c0c0c0" />
<rect x="263" y="740" width="1" height="9" fill="#c0c0c0" />
<rect x="267" y="740" width="1" height="8" fill="#c0c0c0" />
<rect x="271" y="740" width="1" height="6" fill="#c0c0c0" />
<rect x="275" y="740" width="1" height="3" fill="#c0c0c0" />
<rect x="279" y="740" width="1" height="1" fill="#c0c0c0" />
<rect x="283" y="736" width="1" height="5" fill="#c0c0c0" />
<rect x="287" y="731" width="1" height="10" fill="#c0c0c0" />
<rect x="291" y="728" width="1" height="13" fill="#c0c0c0" />
<rect x="295" y="726" width="1" height="15" fill="#c0c0c0" />
<rect x="299" y="724" width="1" height="17" fill="#c0c0c0" />
<rect x="303" y="724" width="1" height="17" fill="#c0c0c0" />
<rect x="307" y="725" width="1" height="16" fill="#c0c0c0" />
<rect x="311" y="728" width="1" height="13" fill="#c0c0c0" />
<rect x="315" y="731" width="1" height="10" fill="#c0c0c0" />
<rect x="319" y="733" width="1" height="8" fill="#c0c0c0" />
<rect x="323" y="735" width="1" height="6" fill="#c0c0c0" />
<rect x="327" y="737" width="1" height="4" fill="#c0c0c0" />
<rect x="331" y="735" width="1" height="6" fill="#c0c0c0" />
<rect x="335" y="732" width="1" height="9" fill="#c0c0c0" />
<rect x="339" y="728" width="1" height="13" fill="#c0c0c0" />
<rect x="343" y="725" width="1" height="16" fill="#c0c0c0" />
<rect x="347" y="722" width="1" height="19" fill="#c0c0c0" />
<rect x="351" y="720" width="1" height="21" fill="#c0c0c0" />
<rect x="355" y="720" width="1" height="21" fill="#c0c0c0" />
<rect x="359" y="719" width="1" height="22" fill="#c0c0c0" />
<rect x="363" y="719" width="1" height="22" fill="#c0c0c0" />
<rect x="367" y="722" width="1" height="19" fill="#c0c0c0" />
<rect x="371" y="725" width="1" height="16" fill="#c0c0c0" />
<rect x="375" y="728" width="1" height="13" fill="#c0c0c0" />
<rect x="379" y="731" width="1" height="10" fill="#c0c0c0" />
<rect x="383" y="735" width="1" height="6" fill="#c0c0c0" />
<rect x="387" y="739" width="1" height="2" fill="#c0c0c0" />
<rect x="391" y="740" width="1" height="3" fill="#c0c0c0" />
<rect x="395" y="740" width="1" height="6" fill="#c0c0c0" />
<rect x="399" y="740" width="1" height="5" fill="#c0c0c0" />
<rect x="403" y="740" width="1" height="5" fill="#c0c0c0" />
<rect x="407" y="740" width="1" height="5" fill="#c0c0c0" />
<rect x="411" y="740" width="1" height="5" fill="#c0c0c0" />
<rect x="415" y="740" width="1" height="5" fill="#c0c0c0" />
<rect x="419" y="740" width="1" height="7" fill="#c0c0c0" />
<rect x="423" y="740" width="1" height="7" fill="#c0c0c0" />
<rect x="427" y="740" width="1" height="8" fill="#c0c0c0" />
<rect x="431" y="740" width="1" height="8" fill="#c0c0c0" />
<rect x="435" y="740" width="1" height="9" fill="#c0c0c0" />
<rect x="439" y="740" width="1" height="9" fill="#c0c0c0" />
<rect x="443" y="740" width="1" height="12" fill="#c0c0c0" />
<rect x="447" y="740" width="1" height="14" fill="#c0c0c0" />
<rect x="451" y="740" width="1" height="15" fill="#c0c0c0" />
<rect x="455" y="740" width="1" height="18" fill="#c0c0c0" />
<rect x="459" y="740" width="1" height="19" fill="#c0c0c0" />
<rect x="463" y="740" width="1" height="19" fill="#c0c0c0" />
<rect x="467" y="740" width="1" height="19" fill="#c0c0c0" />
<rect x="471" y="740" width="1" height="19" fill="#c0c0c0" />
<rect x="475" y="740" width="1" height="22" fill="#c0c0c0" />
<rect x="479" y="740" width="1" height="22" fill="#c0c0c0" />
<rect x="483" y="740" width="1" height="22" fill="#c0c0c0" />
<rect x="487" y="740" width="1" height="18" fill="#c0c0c0" />
<rect x="491" y="740" width="1" height="14" fill="#c0c0c0" />
<rect x="495" y="740" width="1" height="10" fill="#c0c0c0" />
<rect x="499" y="740" width="1" height="8" fill="#c0c0c0" />
<rect x="503" y="740" width="1" height="5" fill="#c0c0c0" />
<rect x="507" y="740" width="1" height="4" fill="#c0c0c0" />
<rect x="511" y="740" width="1" height="3" fill="#c0c0c0" />
<rect x="515" y="740" width="1" height="3" fill="#c0c0c0" />
<rect x="519" y="740" width="1" height="5" fill="#c0c0c0" />
<rect x="523" y="740" width="1" height="7" fill="#c0c0c0" />
<rect x="527" y="740" width="1" height="10" fill="#c0c0c0" />
<rect x="531" y="740" width="1" height="12" fill="#c0c0c0" />
<rect x="535" y="740" width="1" height="13" fill="#c0c0c0" />
<rect x="539" y="740" width="1" height="14" fill="#c0c0c0" />
<rect x="543" y="740" width="1" height="14" fill="#c0c0c0" />
<rect x="547" y="740" width="1" height="15" fill="#c0c0c0" />
<rect x="551" y="740" width="1" height="13" fill="#c0c0c0" />
<rect x="555" y="740" width="1" height="12" fill="#c0c0c0" />
<rect x="559" y="740" width="1" height="12" fill="#c0c0c0" />
<rect x="563" y="740" width="1" height="12" fill="#c0c0c0" />
<rect x="567" y="740" width="1" height="13" fill="#c0c0c0" />
<rect x="571" y="740" width="1" height="14" fill="#c0c0c0" />
<rect x="575" y="740" width="1" height="18" fill="#c0c0c0" />
<rect x="579" y="740" width="1" height="21" fill="#c0c0c0" />
<rect x="583" y="740" width="1" height="24" fill="#c0c0c0" />
<rect x="587" y="740" width="1" height="25" fill="#c0c0c0" />
<rect x="591" y="740" width="1" height="24" fill="#c0c0c0" />
<rect x="595" y="740" width="1" height="23" fill="#c0c0c0" />
<rect x="599" y="740" width="1" height="21" fill="#c0c0c0" />
<rect x="603" y="740" width="1" height="20" fill="#c0c0c0" />
<rect x="607" y="740" width="1" height="17" fill="#c0c0c0" />
<rect x="611" y="740" width="1" height="16" fill="#c0c0c0" />
<rect x="615" y="740" width="1" height="17" fill="#c0c0c0" />
<rect x="619" y="740" width="1" height="14" fill="#c0c0c0" />
<rect x="623" y="740" width="1" height="12" fill="#c0c0c0" />
<rect x="627" y="740" width="1" height="10" fill="#c0c0c0" />
<rect x="631" y="740" width="1" height="11" fill="#c0c0c0" />
<rect x="635" y="740" width="1" height="9" fill="#c0c0c0" />
<rect x="639" y="740" width="1" height="8" fill="#c0c0c0" />
<rect x="643" y="740" width="1" height="7" fill="#c0c0c0" />
<rect x="647" y="740" width="1" height="9" fill="#c0c0c0" />
<rect x="651" y="740" width="1" height="9" fill="#c0c0c0" />
<rect x="655" y="740" width="1" height="11" fill="#c0c0c0" />
<rect x="659" y="740" width="1" height="11" fill="#c0c0c0" />
<rect x="663" y="740" width="1" height="13" fill="#c0c0c0" />
<rect x="667" y="740" width="1" height="16" fill="#c0c0c0" />
<rect x="671" y="740" width="1" height="17" fill="#c0c0c0" />
<rect x="675" y="740" width="1" height="18" fill="#c0c0c0" />
<rect x="679" y="740" width="1" height="20" fill="#c0c0c0" />
<rect x="683" y="740" width="1" height="20" fill="#c0c0c0" />
<rect x="687" y="740" width="1" height="19" fill="#c0c0c0" />
<rect x="691" y="740" width="1" height="17" fill="#c0c0c0" />
<rect x="695" y="740" width="1" height="15" fill="#c0c0c0" />
<rect x="699" y="740" width="1" height="14" fill="#c0c0c0" />
<rect x="703" y="740" width="1" height="12" fill="#c0c0c0" />
<rect x="707" y="740" width="1" height="13" fill="#c0c0c0" />
<rect x="711" y="740" width="1" height="11" fill="#c0c0c0" />
<rect x="715" y="740" width="1" height="9" fill="#c0c0c0" />
<rect x="719" y="740" width="1" height="6" fill="#c0c0c0" />
<rect x="723" y="740" width="1" height="3" fill="#c0c0c0" />
<rect x="727" y="740" width="1" height="2" fill="#c0c0c0" />
<rect x="731" y="739" width="1" height="2" fill="#c0c0c0" />
<rect x="735" y="736" width="1" height="5" fill="#c0c0c0" />
<rect x="739" y="732" width="1" height="9" fill="#c0c0c0" />
<rect x="743" y="728" width="1" height="13" fill="#c0c0c0" />
<rect x="747" y="724" width="1" height="17" fill="#c0c0c0" />
<rect x="751" y="723" width="1" height="18" fill="#c0c0c0" />
<rect x="755" y="722" width="1" height="19" fill="#c0c0c0" />
<rect x="759" y="722" width="1" height="19" fill="#c0c0c0" />
<rect x="763" y="723" width="1" height="18" fill="#c0c0c0" />
<rect x="767" y="725" width="1" height="16" fill="#c0c0c0" />
<rect x="771" y="727" width="1" height="14" fill="#c0c0c0" />
<rect x="775" y="727" width="1" height="14" fill="#c0c0c0" />
<rect x="779" y="727" width="1" height="14" fill="#c0c0c0" />
<rect x="783" y="727" width="1" height="14" fill="#c0c0c0" />
<rect x="787" y="726" width="1" height="15" fill="#c0c0c0" />
<rect x="791" y="724" width="1" height="17" fill="#c0c0c0" />
<rect x="795" y="724" width="1" height="17" fill="#c0c0c0" />
<rect x="799" y="724" width="1" height="17" fill="#c0c0c0" />
<rect x="803" y="727" width="1" height="14" fill="#c0c0c0" />
<rect x="807" y="730" width="1" height="11" fill="#c0c0c0" />
<rect x="811" y="733" width="1" height="8" fill="#c0c0c0" />
<rect x="815" y="737" width="1" height="4" fill="#c0c0c0" />
<rect x="819" y="740" width="1" height="1" fill="#c0c0c0" />
<rect x="823" y="740" width="1" height="3" fill="#c0c0c0" />
<rect x="827" y="740" width="1" height="5" fill="#c0c0c0" />
<rect x="831" y="740" width="1" height="7" fill="#c0c0c0" />
<rect x="835" y="740" width="1" height="9" fill="#c0c0c0" />
<rect x="839" y="740" width="1" height="8" fill="#c0c0c0" />
<rect x="843" y="740" width="1" height="7" fill="#c0c0c0" />
<rect x="847" y="740" width="1" height="5" fill="#c0c0c0" />
<rect x="851" y="740" width="1" height="4" fill="#c0c0c0" />
<rect x="855" y="740" width="1" height="4" fill="#c0c0c0" />
<rect x="859" y="740" width="1" height="3" fill="#c0c0c0" />
<rect x="863" y="740" width="1" height="4" fill="#c0c0c0" />
<rect x="867" y="740" width="1" height="5" fill="#c0c0c0" />
<rect x="871" y="740" width="1" height="6" fill="#c0c0c0" />
<rect x="875" y="740" width="1" height="7" fill="#c0c0c0" />
<rect x="879" y="740" width="1" height="8" fill="#c0c0c0" />
<rect x="883" y="740" width="1" height="9" fill="#c0c0c0" />
<rect x="887" y="740" width="1" height="8" fill="#c0c0c0" />
<rect x="891" y="740" width="1" height="8" fill="#c0c0c0" />
<rect x="895" y="740" width="1" height="6" fill="#c0c0c0" />
<rect x="899" y="740" width="1" height="4" fill="#c0c0c0" />
<rect x="903" y="740" width="1" height="2" fill="#c0c0c0" />
<rect x="907" y="739" width="1" height="2" fill="#c0c0c0" />
<rect x="911" y="739" width="1" height="2" fill="#c0c0c0" />
<rect x="915" y="739" width="1" height="2" fill="#c0c0c0" />
<rect x="919" y="739" width="1" height="2" fill="#c0c0c0" />
<rect x="923" y="738" width="1" height="3" fill="#c0c0c0" />
<rect x="927" y="737" width="1" height="4" fill="#c0c0c0" />
<rect x="931" y="735" width="1" height="6" fill="#c0c0c0" />
<rect x="935" y="733" width="1" height="8" fill="#c0c0c0" />
<rect x="939" y="732" width="1" height="9" fill="#c0c0c0" />
<rect x="943" y="731" width="1" height="10" fill="#c0c0c0" />
<rect x="947" y="729" width="1" height="12" fill="#c0c0c0" />
<rect x="951" y="729" width="1" height="12" fill="#c0c0c0" />
<rect x="955" y="729" width="1" height="12" fill="#c0c0c0" />
<rect x="959" y="731" width="1" height="10" fill="#c0c0c0" />
<rect x="963" y="733" width="1" height="8" fill="#c0c0c0" />
<rect x="967" y="734" width="1" height="7" fill="#c0c0c0" />
<rect x="971" y="735" width="1" height="6" fill="#c0c0c0" />
<rect x="975" y="736" width="1" height="5" fill="#c0c0c0" />
<rect x="979" y="736" width="1" height="5" fill="#c0c0c0" />
<rect x="983" y="734" width="1" height="7" fill="#c0c0c0" />
<rect x="987" y="731" width="1" height="10" fill="#c0c0c0" />
<rect x="991" y="728" width="1" height="13" fill="#c0c0c0" />
<rect x="995" y="725" width="1" height="16" fill="#c0c0c0" />
<rect x="999" y="724" width="1" height="17" fill="#c0c0c0" />
<rect x="1003" y="723" width="1" height="18" fill="#c0c0c0" />
<rect x="1007" y="724" width="1" height="17" fill="#c0c0c0" />
<rect x="1011" y="725" width="1" height="16" fill="#c0c0c0" />
<rect x="1015" y="725" width="1" height="16" fill="#c0c0c0" />
<rect x="1019" y="728" width="1" height="13" fill="#c0c0c0" />
<rect x="1023" y="730" width="1" height="11" fill="#c0c0c0" />
<rect x="1027" y="733" width="1" height="8" fill="#c0c0c0" />
<rect x="1031" y="735" width="1" height="6" fill="#c0c0c0" />
<rect x="1035" y="736" width="1" height="5" fill="#c0c0c0" />
<rect x="1039" y="737" width="1" height="4" fill="#c0c0c0" />
<rect x="1043" y="738" width="1" height="3" fill="#c0c0c0" />
<rect x="1047" y="737" width="1" height="4" fill="#c0c0c0" />
<rect x="1051" y="737" width="1" height="4" fill="#c0c0c0" />
<rect x="1055" y="739" width="1" height="2" fill="#c0c0c0" />
<rect x="1059" y="740" width="1" height="2" fill="#c0c0c0" />
<rect x="1063" y="740" width="1" height="4" fill="#c0c0c0" />
<rect x="1067" y="740" width="1" height="4" fill="#c0c0c0" />
<rect x="1071" y="740" width="1" height="6" fill="#c0c0c0" />
<rect x="1075" y="740" width="1" height="8" fill="#c0c0c0" />
<rect x="1079" y="740" width="1" height="10" fill="#c0c0c0" />
<rect x="1083" y="740" width="1" height="12" fill="#c0c0c0" />
<rect x="1087" y="740" width="1" height="14" fill="#c0c0c0" />
<rect x="1091" y="740" width="1" height="16" fill="#c0c0c0" />
<rect x="1095" y="740" width="1" height="17" fill="#c0c0c0" />
<rect x="1099" y="740" width="1" height="16" fill="#c0c0c0" />
<rect x="1103" y="740" width="1" height="14" fill="#c0c0c0" />
<rect x="1107" y="740" width="1" height="11" fill="#c0c0c0" />
<rect x="1111" y="740" width="1" height="11" fill="#c0c0c0" />
<rect x="1115" y="740" width="1" height="11" fill="#c0c0c0" />
<rect x="1119" y="740" width="1" height="12" fill="#c0c0c0" />
<rect x="1123" y="740" width="1" height="14" fill="#c0c0c0" />
<rect x="1127" y="740" width="1" height="16" fill="#c0c0c0" />
<rect x="1131" y="740" width="1" height="18" fill="#c0c0c0" />
<rect x="1135" y="740" width="1" height="20" fill="#c0c0c0" />
<rect x="1139" y="740" width="1" height="22" fill="#c0c0c0" />
<rect x="1143" y="740" width="1" height="24" fill="#c0c0c0" />
<rect x="1147" y="740" width="1" height="28" fill="#c0c0c0" />
<rect x="1151" y="740" width="1" height="30" fill="#c0c0c0" />
<rect x="1155" y="740" width="1" height="32" fill="#c0c0c0" />
<rect x="1159" y="740" width="1" height="33" fill="#c0c0c0" />
<rect x="1163" y="740" width="1" height="34" fill="#c0c0c0" />
<rect x="1167" y="740" width="1" height="36" fill="#c0c0c0" />
<rect x="1171" y="740" width="1" height="36" fill="#c0c0c0" />
<rect x="1175" y="740" width="1" height="34" fill="#c0c0c0" />
<rect x="1179" y="740" width="1" height="32" fill="#c0c0c0" />
<rect x="1183" y="740" width="1" height="30" fill="#c0c0c0" />
<rect x="1187" y="740" width="1" height="28" fill="#c0c0c0" />
<rect x="1191" y="740" width="1" height="26" fill="#c0c0c0" />
<rect x="1195" y="740" width="1" height="19" fill="#c0c0c0" />
<rect x="1199" y="740" width="1" height="13" fill="#c0c0c0" />
<rect x="1203" y="740" width="1" height="7" fill="#c0c0c0" />
<rect x="1207" y="737" width="1" height="4" fill="#c0c0c0" />
<rect x="1211" y="728" width="1" height="13" fill="#c0c0c0" />
<rect x="1215" y="723" width="1" height="18" fill="#c0c0c0" />
<rect x="1219" y="717" width="1" height="24" fill="#c0c0c0" />
<rect x="1223" y="708" width="1" height="33" fill="#c0c0c0" />
<rect x="1227" y="701" width="1" height="40" fill="#c0c0c0" />
<rect x="1231" y="691" width="1" height="50" fill="#c0c0c0" />
<rect x="1235" y="688" width="1" height="53" fill="#c0c0c0" />
<rect x="1239" y="688" width="1" height="53" fill="#c0c0c0" />
<rect x="1243" y="697" width="1" height="44" fill="#c0c0c0" />
<rect x="1247" y="705" width="1" height="36" fill="#c0c0c0" />
<rect x="1251" y="711" width="1" height="30" fill="#c0c0c0" />
<rect x="1255" y="714" width="1" height="27" fill="#c0c0c0" />
<rect x="1259" y="723" width="1" height="18" fill="#c0c0c0" />
<rect x="1263" y="736" width="1" height="5" fill="#c0c0c0" />
<rect x="1267" y="740" width="1" height="4" fill="#c0c0c0" />
<polyline points="3.5,752.0 7.5,751.2 11.5,750.1 15.5,748.9 19.5,747.4 23.5,746.2 27.5,745.1 31.5,744.0 35.5,743.0 39.5,742.9 43.5,743.2 47.5,744.0 51.5,745.2 55.5,746.7 59.5,748.3 63.5,749.6 67.5,751.1 71.5,752.4 75.5,753.4 79.5,753.9 83.5,753.9 87.5,753.5 91.5,752.8 95.5,751.6 99.5,750.3 103.5,748.7 107.5,747.1 111.5,745.3 115.5,744.0 119.5,743.1 123.5,742.5 127.5,742.0 131.5,742.0 135.5,742.4 139.5,743.5 143.5,744.9 147.5,746.6 151.5,748.2 155.5,749.3 159.5,750.2 163.5,751.0 167.5,751.6 171.5,751.9 175.5,751.8 179.5,751.5 183.5,750.8 187.5,749.9 191.5,749.1 195.5,748.3 199.5,747.5 203.5,746.6 207.5,745.9 211.5,745.3 215.5,744.8 219.5,744.6 223.5,744.7 227.5,745.1 231.5,745.6 235.5,746.2 239.5,746.7 243.5,747.0 247.5,747.0 251.5,746.9 255.5,746.9 259.5,746.9 263.5,746.9 267.5,746.7 271.5,746.3 275.5,745.8 279.5,745.2 283.5,744.2 287.5,742.6 291.5,740.5 295.5,738.1 299.5,735.5 303.5,732.9 307.5,730.7 311.5,729.1 315.5,728.1 319.5,727.8 323.5,728.2 327.5,729.3 331.5,730.3 335.5,731.2 339.5,731.7 343.5,731.7 347.5,731.0 351.5,729.8 355.5,728.3 359.5,726.5 363.5,724.6 367.5,723.1 371.5,722.2 375.5,722.2 379.5,722.9 383.5,724.4 387.5,726.4 391.5,728.9 395.5,731.8 399.5,734.6 403.5,737.0 407.5,739.2 411.5,740.9 415.5,742.4 419.5,743.5 423.5,744.3 427.5,744.8 431.5,745.1 435.5,745.5 439.5,745.9 443.5,746.6 447.5,747.7 451.5,748.9 455.5,750.1 459.5,751.5 463.5,752.7 467.5,753.9 471.5,755.1 475.5,756.5 479.5,757.6 483.5,758.4 487.5,758.7 491.5,758.3 495.5,757.3 499.5,756.1 503.5,754.6 507.5,752.9 511.5,750.8 515.5,748.7 519.5,746.8 523.5,745.6 527.5,745.1 531.5,745.3 535.5,745.9 539.5,746.8 543.5,748.0 547.5,749.3 551.5,750.4 555.5,751.3 559.5,751.8 563.5,752.0 567.5,752.1 571.5,752.2 575.5,752.7 579.5,753.4 583.5,754.3 587.5,755.7 591.5,757.1 595.5,758.3 599.5,759.3 603.5,760.0 607.5,760.4 611.5,760.2 615.5,759.7 619.5,758.7 623.5,757.1 627.5,755.5 631.5,754.2 635.5,753.0 639.5,751.7 643.5,750.6 647.5,749.8 651.5,748.9 655.5,748.6 659.5,748.5 663.5,748.9 667.5,749.4 671.5,750.2 675.5,751.3 679.5,752.7 683.5,753.9 687.5,755.1 691.5,755.8 695.5,756.3 699.5,756.3 703.5,756.0 707.5,755.5 711.5,754.7 715.5,753.5 719.5,751.9 723.5,750.1 727.5,748.4 731.5,746.7 735.5,744.8 739.5,742.7 743.5,740.1 747.5,737.2 751.5,734.4 755.5,731.9 759.5,729.6 763.5,727.7 767.5,726.1 771.5,725.0 775.5,724.5 779.5,724.4 783.5,724.7 787.5,725.1 791.5,725.4 795.5,725.6 799.5,725.6 803.5,725.9 807.5,726.3 811.5,726.9 815.5,728.0 819.5,729.5 823.5,731.3 827.5,733.5 831.5,736.0 835.5,738.6 839.5,740.9 843.5,742.7 847.5,743.9 851.5,744.5 855.5,744.8 859.5,744.8 863.5,744.6 867.5,744.3 871.5,744.0 875.5,743.9 879.5,744.1 883.5,744.4 887.5,744.9 891.5,745.5 895.5,745.8 899.5,745.8 903.5,745.5 907.5,744.8 911.5,744.0 915.5,743.2 919.5,742.1 923.5,741.0 927.5,739.9 931.5,738.8 935.5,737.7 939.5,736.7 943.5,735.8 947.5,734.6 951.5,733.5 955.5,732.4 959.5,731.7 963.5,731.3 967.5,731.3 971.5,731.5 975.5,732.0 979.5,732.6 983.5,733.1 987.5,733.3 991.5,733.2 995.5,732.6 999.5,731.5 1003.5,730.2 1007.5,729.0 1011.5,727.9 1015.5,726.7 1019.5,726.0 1023.5,725.9 1027.5,726.5 1031.5,727.6 1035.5,729.0 1039.5,730.5 1043.5,732.0 1047.5,733.3 1051.5,734.6 1055.5,735.9 1059.5,737.0 1063.5,738.1 1067.5,739.0 1071.5,739.9 1075.5,741.1 1079.5,742.4 1083.5,743.9 1087.5,745.7 1091.5,747.4 1095.5,749.1 1099.5,750.5 1103.5,751.6 1107.5,752.2 1111.5,752.5 1115.5,752.6 1119.5,752.6 1123.5,752.6 1127.5,752.7 1131.5,752.8 1135.5,753.3 1139.5,754.2 1143.5,755.6 1147.5,757.5 1151.5,759.6 1155.5,761.8 1159.5,763.9 1163.5,765.9 1167.5,767.9 1171.5,769.7 1175.5,771.0 1179.5,771.8 1183.5,772.1 1187.5,771.8 1191.5,771.1 1195.5,769.5 1199.5,767.2 1203.5,764.0 1207.5,759.8 1211.5,754.8 1215.5,749.4 1219.5,743.7 1223.5,737.1 1227.5,730.0 1231.5,722.6 1235.5,715.5 1239.5,709.0 1243.5,704.6 1247.5,702.0 1251.5,700.7 1255.5,700.3 1259.5,702.0 1263.5,706.0 1267.5,711.7" fill="none" stroke="#ff0000" stroke-width="1" stroke-dasharray="3,3" shape-rendering="crispEdges"/>
</g>
<text x="6.6" y="694" font-size="9.9" fill="#000" text-anchor="start" font-weight="normal" stroke="#000" stroke-width="0.2" textLength="151.5" lengthAdjust="spacingAndGlyphs">MACD(12,26,9) -0.000536 0.005655</text>
<text x="1599" y="691.5" font-size="9.2" fill="#000" text-anchor="start" font-weight="normal" stroke="#000" stroke-width="0.2" >0.011232</text>
<rect x="1596" y="688" width="1" height="1" fill="#000" />
<text x="1599" y="743.5" font-size="9.2" fill="#000" text-anchor="start" font-weight="normal" stroke="#000" stroke-width="0.2" >0.00</text>
<rect x="1596" y="740" width="1" height="1" fill="#000" />
<text x="1599" y="777.5" font-size="9.2" fill="#000" text-anchor="start" font-weight="normal" stroke="#000" stroke-width="0.2" >-0.007894</text>
<rect x="1596" y="774" width="1" height="1" fill="#000" />
<rect x="3" y="782" width="1" height="3" fill="#000" />
<text x="2.1" y="794" font-size="9.8" fill="#000" text-anchor="start" font-weight="normal" stroke="#000" stroke-width="0.2" textLength="51.7" lengthAdjust="spacingAndGlyphs">16 Mar 2019</text>
<rect x="67" y="782" width="1" height="3" fill="#000" />
<text x="66.1" y="794" font-size="9.8" fill="#000" text-anchor="start" font-weight="normal" stroke="#000" stroke-width="0.2" textLength="44.6" lengthAdjust="spacingAndGlyphs">4 Apr 2019</text>
<rect x="131" y="782" width="1" height="3" fill="#000" />
<text x="130.1" y="794" font-size="9.8" fill="#000" text-anchor="start" font-weight="normal" stroke="#000" stroke-width="0.2" textLength="49.7" lengthAdjust="spacingAndGlyphs">23 Apr 2019</text>
<rect x="195" y="782" width="1" height="3" fill="#000" />
<text x="194.1" y="794" font-size="9.8" fill="#000" text-anchor="start" font-weight="normal" stroke="#000" stroke-width="0.2" textLength="52.6" lengthAdjust="spacingAndGlyphs">11 May 2019</text>
<rect x="259" y="782" width="1" height="3" fill="#000" />
<text x="258.1" y="794" font-size="9.8" fill="#000" text-anchor="start" font-weight="normal" stroke="#000" stroke-width="0.2" textLength="53.3" lengthAdjust="spacingAndGlyphs">30 May 2019</text>
<rect x="323" y="782" width="1" height="3" fill="#000" />
<text x="322.1" y="794" font-size="9.8" fill="#000" text-anchor="start" font-weight="normal" stroke="#000" stroke-width="0.2" textLength="50.7" lengthAdjust="spacingAndGlyphs">18 Jun 2019</text>
<rect x="387" y="782" width="1" height="3" fill="#000" />
<text x="386.1" y="794" font-size="9.8" fill="#000" text-anchor="start" font-weight="normal" stroke="#000" stroke-width="0.2" textLength="42.5" lengthAdjust="spacingAndGlyphs">6 Jul 2019</text>
<rect x="451" y="782" width="1" height="3" fill="#000" />
<text x="450.1" y="794" font-size="9.8" fill="#000" text-anchor="start" font-weight="normal" stroke="#000" stroke-width="0.2" textLength="47.6" lengthAdjust="spacingAndGlyphs">25 Jul 2019</text>
<rect x="515" y="782" width="1" height="3" fill="#000" />
<text x="514.1" y="794" font-size="9.8" fill="#000" text-anchor="start" font-weight="normal" stroke="#000" stroke-width="0.2" textLength="51.7" lengthAdjust="spacingAndGlyphs">13 Aug 2019</text>
<rect x="579" y="782" width="1" height="3" fill="#000" />
<text x="578.1" y="794" font-size="9.8" fill="#000" text-anchor="start" font-weight="normal" stroke="#000" stroke-width="0.2" textLength="51.7" lengthAdjust="spacingAndGlyphs">31 Aug 2019</text>
<rect x="643" y="782" width="1" height="3" fill="#000" />
<text x="642.1" y="794" font-size="9.8" fill="#000" text-anchor="start" font-weight="normal" stroke="#000" stroke-width="0.2" textLength="52.2" lengthAdjust="spacingAndGlyphs">19 Sep 2019</text>
<rect x="707" y="782" width="1" height="3" fill="#000" />
<text x="706.1" y="794" font-size="9.8" fill="#000" text-anchor="start" font-weight="normal" stroke="#000" stroke-width="0.2" textLength="45.1" lengthAdjust="spacingAndGlyphs">8 Oct 2019</text>
<rect x="771" y="782" width="1" height="3" fill="#000" />
<text x="770.1" y="794" font-size="9.8" fill="#000" text-anchor="start" font-weight="normal" stroke="#000" stroke-width="0.2" textLength="50.2" lengthAdjust="spacingAndGlyphs">26 Oct 2019</text>
<rect x="835" y="782" width="1" height="3" fill="#000" />
<text x="834.1" y="794" font-size="9.8" fill="#000" text-anchor="start" font-weight="normal" stroke="#000" stroke-width="0.2" textLength="52.2" lengthAdjust="spacingAndGlyphs">14 Nov 2019</text>
<rect x="899" y="782" width="1" height="3" fill="#000" />
<text x="898.1" y="794" font-size="9.8" fill="#000" text-anchor="start" font-weight="normal" stroke="#000" stroke-width="0.2" textLength="47.1" lengthAdjust="spacingAndGlyphs">3 Dec 2019</text>
<rect x="963" y="782" width="1" height="3" fill="#000" />
<text x="962.1" y="794" font-size="9.8" fill="#000" text-anchor="start" font-weight="normal" stroke="#000" stroke-width="0.2" textLength="52.2" lengthAdjust="spacingAndGlyphs">21 Dec 2019</text>
<rect x="1027" y="782" width="1" height="3" fill="#000" />
<text x="1026.1" y="794" font-size="9.8" fill="#000" text-anchor="start" font-weight="normal" stroke="#000" stroke-width="0.2" textLength="45.6" lengthAdjust="spacingAndGlyphs">9 Jan 2020</text>
<rect x="1091" y="782" width="1" height="3" fill="#000" />
<text x="1090.1" y="794" font-size="9.8" fill="#000" text-anchor="start" font-weight="normal" stroke="#000" stroke-width="0.2" textLength="50.7" lengthAdjust="spacingAndGlyphs">28 Jan 2020</text>
<rect x="1155" y="782" width="1" height="3" fill="#000" />
<text x="1154.1" y="794" font-size="9.8" fill="#000" text-anchor="start" font-weight="normal" stroke="#000" stroke-width="0.2" textLength="51.7" lengthAdjust="spacingAndGlyphs">15 Feb 2020</text>
<rect x="1219" y="782" width="1" height="3" fill="#000" />
<text x="1218.1" y="794" font-size="9.8" fill="#000" text-anchor="start" font-weight="normal" stroke="#000" stroke-width="0.2" textLength="46.6" lengthAdjust="spacingAndGlyphs">5 Mar 2020</text>
<rect x="0" y="802" width="1638" height="1" fill="#e3e3e3" />
<rect x="0" y="803" width="1638" height="23" fill="#f0f0f0" />
<rect x="0" y="803" width="1638" height="1" fill="#ffffff" />
<rect x="0" y="804" width="1638" height="1" fill="#000000" />
<rect x="0" y="805" width="1638" height="1" fill="#ffffff" />
<rect x="0" y="824" width="1638" height="1" fill="#f8f8f8" />
<rect x="0" y="825" width="1638" height="1" fill="#fdfdfd" />
<rect x="4" y="804" width="104" height="19" fill="#ffffff" />
<rect x="4" y="804" width="1" height="19" fill="#000" />
<rect x="107" y="804" width="1" height="19" fill="#000" />
<rect x="4" y="822" width="104" height="1" fill="#000" />
<text x="16.3" y="818.5" font-size="12.2" fill="#000" text-anchor="start" font-weight="normal" stroke="#000" stroke-width="0.2" textLength="80" lengthAdjust="spacingAndGlyphs">EURUSD,Daily</text>
<text x="117.4" y="818.5" font-size="12.2" fill="#666666" text-anchor="start" font-weight="normal" stroke="#666666" stroke-width="0.2" textLength="80.2" lengthAdjust="spacingAndGlyphs">USDCHF,Daily</text>
<rect x="208" y="807" width="1" height="14" fill="#555555" />
<text x="218.4" y="818.5" font-size="12.2" fill="#666666" text-anchor="start" font-weight="normal" stroke="#666666" stroke-width="0.2" textLength="83.2" lengthAdjust="spacingAndGlyphs">AUDUSD,Daily</text>
<rect x="312" y="807" width="1" height="14" fill="#555555" />
<text x="322.4" y="818.5" font-size="12.2" fill="#666666" text-anchor="start" font-weight="normal" stroke="#666666" stroke-width="0.2" textLength="82.2" lengthAdjust="spacingAndGlyphs">USDCAD,Daily</text>
<rect x="416" y="807" width="1" height="14" fill="#555555" />
<text x="425.4" y="818.5" font-size="12.2" fill="#666666" text-anchor="start" font-weight="normal" stroke="#666666" stroke-width="0.2" textLength="84.2" lengthAdjust="spacingAndGlyphs">USDCNH,Daily</text>
<rect x="520" y="807" width="1" height="14" fill="#555555" />
<text x="531.4" y="818.5" font-size="12.2" fill="#666666" text-anchor="start" font-weight="normal" stroke="#666666" stroke-width="0.2" textLength="81.2" lengthAdjust="spacingAndGlyphs">EURUSD,Daily</text>
<rect x="624" y="807" width="1" height="14" fill="#555555" />
<text x="635.9" y="818.5" font-size="12.2" fill="#666666" text-anchor="start" font-weight="normal" stroke="#666666" stroke-width="0.2" textLength="68.0" lengthAdjust="spacingAndGlyphs">GBPUSD,H1</text>
<rect x="716" y="807" width="1" height="14" fill="#555555" />
<text x="727.4" y="818.5" font-size="12.2" fill="#666666" text-anchor="start" font-weight="normal" stroke="#666666" stroke-width="0.2" textLength="72.7" lengthAdjust="spacingAndGlyphs">XAUUSD,M5</text>
<rect x="812" y="807" width="1" height="14" fill="#555555" />
<text x="822.6999999999999" y="818.5" font-size="12.2" fill="#666666" text-anchor="start" font-weight="normal" stroke="#666666" stroke-width="0.2" textLength="50.6" lengthAdjust="spacingAndGlyphs">HK50,H1</text>
<rect x="884" y="807" width="1" height="14" fill="#555555" />
<text x="894.4" y="818.5" font-size="12.2" fill="#666666" text-anchor="start" font-weight="normal" stroke="#666666" stroke-width="0.2" textLength="57.2" lengthAdjust="spacingAndGlyphs">UK100,H1</text>
<rect x="964" y="807" width="1" height="14" fill="#555555" />
<text x="974.4" y="818.5" font-size="12.2" fill="#666666" text-anchor="start" font-weight="normal" stroke="#666666" stroke-width="0.2" textLength="58.0" lengthAdjust="spacingAndGlyphs">UK100,H1</text>
<rect x="1044" y="807" width="1" height="14" fill="#555555" />
<text x="1055.0" y="818.5" font-size="12.2" fill="#666666" text-anchor="start" font-weight="normal" stroke="#666666" stroke-width="0.2" textLength="57.1" lengthAdjust="spacingAndGlyphs">GER30,H1</text>
<rect x="1124" y="807" width="1" height="14" fill="#555555" />
<text x="1133.8000000000002" y="818.5" font-size="12.2" fill="#666666" text-anchor="start" font-weight="normal" stroke="#666666" stroke-width="0.2" textLength="55.2" lengthAdjust="spacingAndGlyphs">FRA40,H1</text>
<rect x="1200" y="807" width="1" height="14" fill="#555555" />
<path d="M1614 810 L1610.5 813 L1614 816 Z" fill="#909090" shape-rendering="auto"/>
<path d="M1630 810 L1633.5 813 L1630 816 Z" fill="#909090" shape-rendering="auto"/>
<defs><linearGradient id="gh" x1="0" y1="0" x2="0" y2="1"><stop offset="0" stop-color="#ff5a5a"/><stop offset="1" stop-color="#e33434"/></linearGradient><linearGradient id="gp" x1="0" y1="0" x2="0" y2="1"><stop offset="0" stop-color="#e63636"/><stop offset="1" stop-color="#b00404"/></linearGradient><linearGradient id="gb" x1="0" y1="0" x2="0" y2="1"><stop offset="0" stop-color="#f4f4f4"/><stop offset="0.45" stop-color="#ebebeb"/><stop offset="0.5" stop-color="#dcdcdc"/><stop offset="1" stop-color="#d0d0d0"/></linearGradient></defs>
<rect x="4" y="42" width="223" height="66" fill="#ffffff" />
<rect x="6" y="67" width="109" height="40" fill="#a80000" />
<rect x="7" y="68" width="107" height="38" fill="url(#gp)" />
<rect x="6" y="43" width="52" height="25" fill="#b80000" />
<rect x="7" y="44" width="50" height="24" fill="url(#gh)" />
<rect x="10" y="66" width="45" height="1" fill="#8a0000" />
<text x="17.8" y="59" font-size="12" fill="#ffffff" text-anchor="start" font-weight="normal" stroke="#ffffff" stroke-width="0.2" textLength="26.5" lengthAdjust="spacingAndGlyphs">SELL</text>
<text x="25.5" y="98" font-size="12" fill="#ffffff" text-anchor="start" font-weight="bold" stroke="#ffffff" stroke-width="0.2" >1.09</text>
<text x="53" y="98" font-size="33" fill="#ffffff" text-anchor="start" font-weight="normal" stroke="#ffffff" stroke-width="0.2" >14</text>
<text x="92.5" y="82" font-size="11.5" fill="#ffffff" text-anchor="start" font-weight="bold" stroke="#ffffff" stroke-width="0.2" >2</text>
<rect x="117" y="67" width="108" height="40" fill="#a80000" />
<rect x="118" y="68" width="106" height="38" fill="url(#gp)" />
<rect x="173" y="43" width="52" height="25" fill="#b80000" />
<rect x="174" y="44" width="50" height="24" fill="url(#gh)" />
<rect x="177" y="66" width="45" height="1" fill="#8a0000" />
<text x="186.2" y="59" font-size="12" fill="#ffffff" text-anchor="start" font-weight="normal" stroke="#ffffff" stroke-width="0.2" textLength="24.5" lengthAdjust="spacingAndGlyphs">BUY</text>
<text x="136" y="98" font-size="12" fill="#ffffff" text-anchor="start" font-weight="bold" stroke="#ffffff" stroke-width="0.2" >1.09</text>
<text x="164.5" y="98" font-size="33" fill="#ffffff" text-anchor="start" font-weight="normal" stroke="#ffffff" stroke-width="0.2" >16</text>
<text x="204" y="82" font-size="11.5" fill="#ffffff" text-anchor="start" font-weight="bold" stroke="#ffffff" stroke-width="0.2" >9</text>
<rect x="60" y="43" width="111" height="22" fill="#a4a8ac" />
<rect x="61" y="44" width="109" height="20" fill="#ffffff" />
<rect x="61" y="44" width="20" height="20" fill="url(#gb)" />
<rect x="81" y="44" width="1" height="20" fill="#a4a8ac" />
<rect x="150" y="44" width="20" height="20" fill="url(#gb)" />
<rect x="149" y="44" width="1" height="20" fill="#a4a8ac" />
<path d="M67.5 52 L73.5 52 L70.5 55 Z" fill="#5a64c8" shape-rendering="auto"/>
<path d="M156.5 55 L162.5 55 L159.5 52 Z" fill="#5a64c8" shape-rendering="auto"/>
<text x="146" y="58" font-size="12" fill="#000" text-anchor="end" font-weight="normal" stroke="#000" stroke-width="0.2" >3.00</text>
<path d="M1270 24 L1280 24 L1275 29 Z" fill="#c0c0c0" shape-rendering="auto"/>
</svg></body></html>
